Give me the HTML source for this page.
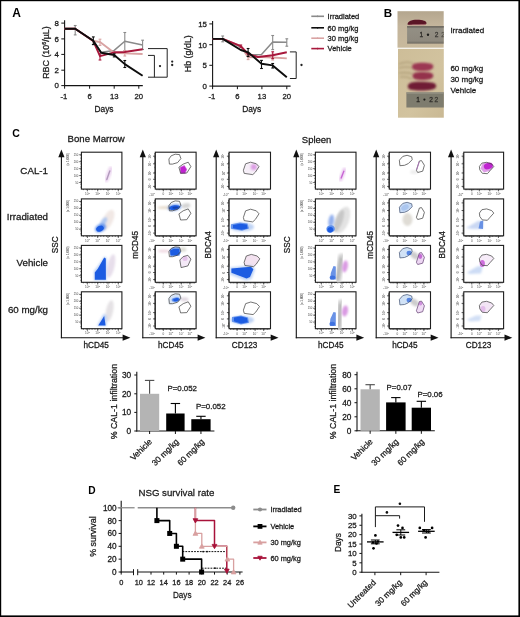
<!DOCTYPE html>
<html><head><meta charset="utf-8"><style>
html,body{margin:0;padding:0;background:#fff;}
body{width:520px;height:617px;overflow:hidden;position:relative;}
svg{position:absolute;left:0;top:0;}
text{font-family:"Liberation Sans", sans-serif;}
svg{will-change:transform;}
</style></head><body>
<svg width="520" height="617" viewBox="0 0 520 617">
<rect x="0" y="0" width="520" height="617" fill="#fff"/>
<text x="12.2" y="16.9" font-size="12" text-anchor="start" fill="#000" font-weight="bold">A</text>
<text x="383.8" y="16.8" font-size="11.6" text-anchor="start" fill="#000" font-weight="bold">B</text>
<text x="12.2" y="137.2" font-size="10.5" text-anchor="start" fill="#000" font-weight="bold">C</text>
<text x="88.2" y="493.6" font-size="10.2" text-anchor="start" fill="#000" font-weight="bold">D</text>
<text x="333.4" y="493.2" font-size="10.2" text-anchor="start" fill="#000" font-weight="bold">E</text>
<line x1="64.6" y1="20.2" x2="64.6" y2="86.1" stroke="#141414" stroke-width="1.1"/>
<line x1="64.1" y1="85.6" x2="142.8" y2="85.6" stroke="#141414" stroke-width="1.1"/>
<line x1="61.3" y1="23.1" x2="64.6" y2="23.1" stroke="#141414" stroke-width="1"/>
<text x="58.99999999999999" y="25.900000000000002" font-size="7.9" text-anchor="end" fill="#1a1a1a" stroke="#1a1a1a" stroke-width="0.27">8</text>
<line x1="61.3" y1="38.9" x2="64.6" y2="38.9" stroke="#141414" stroke-width="1"/>
<text x="58.99999999999999" y="41.699999999999996" font-size="7.9" text-anchor="end" fill="#1a1a1a" stroke="#1a1a1a" stroke-width="0.27">6</text>
<line x1="61.3" y1="54.4" x2="64.6" y2="54.4" stroke="#141414" stroke-width="1"/>
<text x="58.99999999999999" y="57.199999999999996" font-size="7.9" text-anchor="end" fill="#1a1a1a" stroke="#1a1a1a" stroke-width="0.27">4</text>
<line x1="61.3" y1="70.2" x2="64.6" y2="70.2" stroke="#141414" stroke-width="1"/>
<text x="58.99999999999999" y="73.0" font-size="7.9" text-anchor="end" fill="#1a1a1a" stroke="#1a1a1a" stroke-width="0.27">2</text>
<line x1="61.3" y1="85.6" x2="64.6" y2="85.6" stroke="#141414" stroke-width="1"/>
<text x="58.99999999999999" y="88.39999999999999" font-size="7.9" text-anchor="end" fill="#1a1a1a" stroke="#1a1a1a" stroke-width="0.27">0</text>
<line x1="64.6" y1="85.6" x2="64.6" y2="88.69999999999999" stroke="#141414" stroke-width="1"/>
<text x="63.8" y="98.7" font-size="7.7" text-anchor="middle" fill="#1a1a1a" stroke="#1a1a1a" stroke-width="0.27">-1</text>
<line x1="89.6" y1="85.6" x2="89.6" y2="88.69999999999999" stroke="#141414" stroke-width="1"/>
<text x="89.6" y="98.7" font-size="7.7" text-anchor="middle" fill="#1a1a1a" stroke="#1a1a1a" stroke-width="0.27">6</text>
<line x1="114.2" y1="85.6" x2="114.2" y2="88.69999999999999" stroke="#141414" stroke-width="1"/>
<text x="114.2" y="98.7" font-size="7.7" text-anchor="middle" fill="#1a1a1a" stroke="#1a1a1a" stroke-width="0.27">13</text>
<line x1="138.8" y1="85.6" x2="138.8" y2="88.69999999999999" stroke="#141414" stroke-width="1"/>
<text x="138.8" y="98.7" font-size="7.7" text-anchor="middle" fill="#1a1a1a" stroke="#1a1a1a" stroke-width="0.27">20</text>
<text transform="translate(104 111.5) scale(0.9 1)" font-size="9.3" text-anchor="middle" fill="#1a1a1a" stroke="#1a1a1a" stroke-width="0.27">Days</text>
<text x="48.6" y="52.5" font-size="8.9" text-anchor="middle" fill="#1a1a1a" transform="rotate(-90 48.6 52.5)" stroke="#1a1a1a" stroke-width="0.27">RBC (10<tspan font-size="5.5" dy="-3">6</tspan><tspan dy="3">/µL)</tspan></text>
<polyline points="64.6,28.8 75.2,28.8 93.3,40.8 101.2,52.3 114.2,50.4 124.8,41.2 142.6,44.9" stroke="#8a8a8a" stroke-width="1.5" fill="none" stroke-linejoin="round"/>
<line x1="75.2" y1="25.5" x2="75.2" y2="34.9" stroke="#8a8a8a" stroke-width="1.1"/>
<line x1="73.8" y1="25.5" x2="76.60000000000001" y2="25.5" stroke="#8a8a8a" stroke-width="1.1"/>
<line x1="73.8" y1="34.9" x2="76.60000000000001" y2="34.9" stroke="#8a8a8a" stroke-width="1.1"/>
<line x1="124.8" y1="32.5" x2="124.8" y2="50.7" stroke="#8a8a8a" stroke-width="1.1"/>
<line x1="123.39999999999999" y1="32.5" x2="126.2" y2="32.5" stroke="#8a8a8a" stroke-width="1.1"/>
<line x1="123.39999999999999" y1="50.7" x2="126.2" y2="50.7" stroke="#8a8a8a" stroke-width="1.1"/>
<line x1="142.6" y1="40.2" x2="142.6" y2="49.5" stroke="#8a8a8a" stroke-width="1.1"/>
<line x1="141.2" y1="40.2" x2="144.0" y2="40.2" stroke="#8a8a8a" stroke-width="1.1"/>
<line x1="141.2" y1="49.5" x2="144.0" y2="49.5" stroke="#8a8a8a" stroke-width="1.1"/>
<polyline points="64.6,28.8 75.2,28.8 93.3,41 100,42 114.2,52.7 124.8,53.4 142.6,54" stroke="#d9a3a3" stroke-width="1.9" fill="none" stroke-linejoin="round"/>
<line x1="100" y1="39.2" x2="100" y2="45.4" stroke="#d9a3a3" stroke-width="1.1"/>
<line x1="98.6" y1="39.2" x2="101.4" y2="39.2" stroke="#d9a3a3" stroke-width="1.1"/>
<line x1="98.6" y1="45.4" x2="101.4" y2="45.4" stroke="#d9a3a3" stroke-width="1.1"/>
<line x1="124.8" y1="50.5" x2="124.8" y2="56" stroke="#d9a3a3" stroke-width="1.1"/>
<line x1="123.39999999999999" y1="50.5" x2="126.2" y2="50.5" stroke="#d9a3a3" stroke-width="1.1"/>
<line x1="123.39999999999999" y1="56" x2="126.2" y2="56" stroke="#d9a3a3" stroke-width="1.1"/>
<polyline points="64.6,28.8 75.2,28.8 93.3,41 100,56.2 114.2,52.3 124.8,52 142.6,49.3" stroke="#a8183c" stroke-width="1.9" fill="none" stroke-linejoin="round"/>
<line x1="100" y1="53.8" x2="100" y2="60" stroke="#a8183c" stroke-width="1.1"/>
<line x1="98.6" y1="53.8" x2="101.4" y2="53.8" stroke="#a8183c" stroke-width="1.1"/>
<line x1="98.6" y1="60" x2="101.4" y2="60" stroke="#a8183c" stroke-width="1.1"/>
<polyline points="64.6,28.8 75.2,28.8 93.3,40.8 101.2,52.8 114.2,55 124.8,64.1 142.6,75.8" stroke="#0d0d0d" stroke-width="1.9" fill="none" stroke-linejoin="round"/>
<line x1="93.3" y1="36.9" x2="93.3" y2="44.6" stroke="#0d0d0d" stroke-width="1.1"/>
<line x1="91.89999999999999" y1="36.9" x2="94.7" y2="36.9" stroke="#0d0d0d" stroke-width="1.1"/>
<line x1="91.89999999999999" y1="44.6" x2="94.7" y2="44.6" stroke="#0d0d0d" stroke-width="1.1"/>
<line x1="114.2" y1="53.8" x2="114.2" y2="56.9" stroke="#0d0d0d" stroke-width="1.1"/>
<line x1="112.8" y1="53.8" x2="115.60000000000001" y2="53.8" stroke="#0d0d0d" stroke-width="1.1"/>
<line x1="112.8" y1="56.9" x2="115.60000000000001" y2="56.9" stroke="#0d0d0d" stroke-width="1.1"/>
<line x1="124.8" y1="60.5" x2="124.8" y2="67.5" stroke="#0d0d0d" stroke-width="1.1"/>
<line x1="123.39999999999999" y1="60.5" x2="126.2" y2="60.5" stroke="#0d0d0d" stroke-width="1.1"/>
<line x1="123.39999999999999" y1="67.5" x2="126.2" y2="67.5" stroke="#0d0d0d" stroke-width="1.1"/>
<polyline points="148,48.6 167.2,48.6 167.2,77.2 148,77.2" stroke="#222" stroke-width="1" fill="none" stroke-linejoin="round"/>
<polyline points="148,55.4 154.4,55.4 154.4,77.2" stroke="#222" stroke-width="1" fill="none" stroke-linejoin="round"/>
<circle cx="160" cy="66.1" r="1.15" fill="#222"/>
<circle cx="172.2" cy="61.6" r="1.15" fill="#222"/>
<circle cx="172.2" cy="65" r="1.15" fill="#222"/>
<line x1="212.6" y1="21.0" x2="212.6" y2="86.6" stroke="#141414" stroke-width="1.1"/>
<line x1="212.1" y1="86.1" x2="290.6" y2="86.1" stroke="#141414" stroke-width="1.1"/>
<line x1="209.29999999999998" y1="23.9" x2="212.6" y2="23.9" stroke="#141414" stroke-width="1"/>
<text x="207.0" y="26.7" font-size="7.9" text-anchor="end" fill="#1a1a1a" stroke="#1a1a1a" stroke-width="0.27">15</text>
<line x1="209.29999999999998" y1="44.7" x2="212.6" y2="44.7" stroke="#141414" stroke-width="1"/>
<text x="207.0" y="47.5" font-size="7.9" text-anchor="end" fill="#1a1a1a" stroke="#1a1a1a" stroke-width="0.27">10</text>
<line x1="209.29999999999998" y1="65.3" x2="212.6" y2="65.3" stroke="#141414" stroke-width="1"/>
<text x="207.0" y="68.1" font-size="7.9" text-anchor="end" fill="#1a1a1a" stroke="#1a1a1a" stroke-width="0.27">5</text>
<line x1="209.29999999999998" y1="86.1" x2="212.6" y2="86.1" stroke="#141414" stroke-width="1"/>
<text x="207.0" y="88.89999999999999" font-size="7.9" text-anchor="end" fill="#1a1a1a" stroke="#1a1a1a" stroke-width="0.27">0</text>
<line x1="212.6" y1="86.1" x2="212.6" y2="89.19999999999999" stroke="#141414" stroke-width="1"/>
<text x="211.79999999999998" y="98.7" font-size="7.7" text-anchor="middle" fill="#1a1a1a" stroke="#1a1a1a" stroke-width="0.27">-1</text>
<line x1="237.4" y1="86.1" x2="237.4" y2="89.19999999999999" stroke="#141414" stroke-width="1"/>
<text x="237.4" y="98.7" font-size="7.7" text-anchor="middle" fill="#1a1a1a" stroke="#1a1a1a" stroke-width="0.27">6</text>
<line x1="261.9" y1="86.1" x2="261.9" y2="89.19999999999999" stroke="#141414" stroke-width="1"/>
<text x="261.9" y="98.7" font-size="7.7" text-anchor="middle" fill="#1a1a1a" stroke="#1a1a1a" stroke-width="0.27">13</text>
<line x1="286.8" y1="86.1" x2="286.8" y2="89.19999999999999" stroke="#141414" stroke-width="1"/>
<text x="286.8" y="98.7" font-size="7.7" text-anchor="middle" fill="#1a1a1a" stroke="#1a1a1a" stroke-width="0.27">20</text>
<text transform="translate(251.7 111.5) scale(0.9 1)" font-size="9.3" text-anchor="middle" fill="#1a1a1a" stroke="#1a1a1a" stroke-width="0.27">Days</text>
<text x="191.4" y="53.7" font-size="8.9" text-anchor="middle" fill="#1a1a1a" transform="rotate(-90 191.4 53.7)" stroke="#1a1a1a" stroke-width="0.27">Hb (g/dL)</text>
<polyline points="212.6,38.9 222.7,38.9 240.8,47 248.1,55 261.5,54.6 272.7,42 286.8,42.2" stroke="#8a8a8a" stroke-width="1.5" fill="none" stroke-linejoin="round"/>
<line x1="222.7" y1="36" x2="222.7" y2="41.8" stroke="#8a8a8a" stroke-width="1.1"/>
<line x1="221.29999999999998" y1="36" x2="224.1" y2="36" stroke="#8a8a8a" stroke-width="1.1"/>
<line x1="221.29999999999998" y1="41.8" x2="224.1" y2="41.8" stroke="#8a8a8a" stroke-width="1.1"/>
<line x1="272.7" y1="35.5" x2="272.7" y2="49.6" stroke="#8a8a8a" stroke-width="1.1"/>
<line x1="271.3" y1="35.5" x2="274.09999999999997" y2="35.5" stroke="#8a8a8a" stroke-width="1.1"/>
<line x1="271.3" y1="49.6" x2="274.09999999999997" y2="49.6" stroke="#8a8a8a" stroke-width="1.1"/>
<line x1="286.8" y1="38.8" x2="286.8" y2="46.2" stroke="#8a8a8a" stroke-width="1.1"/>
<line x1="285.40000000000003" y1="38.8" x2="288.2" y2="38.8" stroke="#8a8a8a" stroke-width="1.1"/>
<line x1="285.40000000000003" y1="46.2" x2="288.2" y2="46.2" stroke="#8a8a8a" stroke-width="1.1"/>
<polyline points="212.6,38.9 222.7,38.9 240.8,46.2 248.1,57.3 261.5,57 272.7,57.5 286.8,58.4" stroke="#d9a3a3" stroke-width="1.9" fill="none" stroke-linejoin="round"/>
<line x1="248.1" y1="55" x2="248.1" y2="59.6" stroke="#d9a3a3" stroke-width="1.1"/>
<line x1="246.7" y1="55" x2="249.5" y2="55" stroke="#d9a3a3" stroke-width="1.1"/>
<line x1="246.7" y1="59.6" x2="249.5" y2="59.6" stroke="#d9a3a3" stroke-width="1.1"/>
<line x1="272.7" y1="54" x2="272.7" y2="60" stroke="#d9a3a3" stroke-width="1.1"/>
<line x1="271.3" y1="54" x2="274.09999999999997" y2="54" stroke="#d9a3a3" stroke-width="1.1"/>
<line x1="271.3" y1="60" x2="274.09999999999997" y2="60" stroke="#d9a3a3" stroke-width="1.1"/>
<polyline points="212.6,38.9 222.7,38.9 240.8,46.2 248.1,54 258,57 272.7,55.2 286.8,52.3" stroke="#a8183c" stroke-width="1.9" fill="none" stroke-linejoin="round"/>
<line x1="240.8" y1="45" x2="240.8" y2="47.3" stroke="#a8183c" stroke-width="1.1"/>
<line x1="239.4" y1="45" x2="242.20000000000002" y2="45" stroke="#a8183c" stroke-width="1.1"/>
<line x1="239.4" y1="47.3" x2="242.20000000000002" y2="47.3" stroke="#a8183c" stroke-width="1.1"/>
<line x1="272.7" y1="51.8" x2="272.7" y2="58.6" stroke="#a8183c" stroke-width="1.1"/>
<line x1="271.3" y1="51.8" x2="274.09999999999997" y2="51.8" stroke="#a8183c" stroke-width="1.1"/>
<line x1="271.3" y1="58.6" x2="274.09999999999997" y2="58.6" stroke="#a8183c" stroke-width="1.1"/>
<polyline points="212.6,38.9 222.7,38.9 240.8,50 248.1,52.3 261.5,63.8 272.7,65.4 286.8,77.2" stroke="#0d0d0d" stroke-width="1.9" fill="none" stroke-linejoin="round"/>
<line x1="248.1" y1="48.5" x2="248.1" y2="56.5" stroke="#0d0d0d" stroke-width="1.1"/>
<line x1="246.7" y1="48.5" x2="249.5" y2="48.5" stroke="#0d0d0d" stroke-width="1.1"/>
<line x1="246.7" y1="56.5" x2="249.5" y2="56.5" stroke="#0d0d0d" stroke-width="1.1"/>
<line x1="261.5" y1="60.4" x2="261.5" y2="68.5" stroke="#0d0d0d" stroke-width="1.1"/>
<line x1="260.1" y1="60.4" x2="262.9" y2="60.4" stroke="#0d0d0d" stroke-width="1.1"/>
<line x1="260.1" y1="68.5" x2="262.9" y2="68.5" stroke="#0d0d0d" stroke-width="1.1"/>
<line x1="272.7" y1="63.5" x2="272.7" y2="68" stroke="#0d0d0d" stroke-width="1.1"/>
<line x1="271.3" y1="63.5" x2="274.09999999999997" y2="63.5" stroke="#0d0d0d" stroke-width="1.1"/>
<line x1="271.3" y1="68" x2="274.09999999999997" y2="68" stroke="#0d0d0d" stroke-width="1.1"/>
<polyline points="289.9,51.9 296.2,51.9 296.2,78.5 289.9,78.5" stroke="#222" stroke-width="1" fill="none" stroke-linejoin="round"/>
<circle cx="301.5" cy="65" r="1.15" fill="#222"/>
<line x1="311.3" y1="16.3" x2="324" y2="16.3" stroke="#8a8a8a" stroke-width="1.6"/>
<line x1="317.6" y1="15.5" x2="317.6" y2="17.1" stroke="#8a8a8a" stroke-width="1"/>
<text x="327.6" y="19.0" font-size="7.5" text-anchor="start" fill="#1a1a1a" stroke="#1a1a1a" stroke-width="0.27">Irradiated</text>
<line x1="311.3" y1="27.8" x2="324" y2="27.8" stroke="#0d0d0d" stroke-width="1.6"/>
<line x1="317.6" y1="27.0" x2="317.6" y2="28.6" stroke="#0d0d0d" stroke-width="1"/>
<text x="327.6" y="30.5" font-size="7.5" text-anchor="start" fill="#1a1a1a" stroke="#1a1a1a" stroke-width="0.27">60 mg/kg</text>
<line x1="311.3" y1="38.2" x2="324" y2="38.2" stroke="#d9a3a3" stroke-width="1.6"/>
<line x1="317.6" y1="37.400000000000006" x2="317.6" y2="39.0" stroke="#d9a3a3" stroke-width="1"/>
<text x="327.6" y="40.900000000000006" font-size="7.5" text-anchor="start" fill="#1a1a1a" stroke="#1a1a1a" stroke-width="0.27">30 mg/kg</text>
<line x1="311.3" y1="48.6" x2="324" y2="48.6" stroke="#a8183c" stroke-width="1.6"/>
<line x1="317.6" y1="47.800000000000004" x2="317.6" y2="49.4" stroke="#a8183c" stroke-width="1"/>
<text x="327.6" y="51.300000000000004" font-size="7.5" text-anchor="start" fill="#1a1a1a" stroke="#1a1a1a" stroke-width="0.27">Vehicle</text>
<defs>
<filter id="bl1" x="-20%" y="-20%" width="140%" height="140%"><feGaussianBlur stdDeviation="0.8"/></filter>
<filter id="bl2" x="-30%" y="-30%" width="160%" height="160%"><feGaussianBlur stdDeviation="1.3"/></filter>
<filter id="bl05" x="-20%" y="-20%" width="140%" height="140%"><feGaussianBlur stdDeviation="0.5"/></filter>
<filter id="bl04" x="-20%" y="-20%" width="140%" height="140%"><feGaussianBlur stdDeviation="0.4"/></filter>
<filter id="bl3" x="-50%" y="-50%" width="200%" height="200%"><feGaussianBlur stdDeviation="2"/></filter>
<linearGradient id="ph1" x1="0" y1="0" x2="0" y2="1"><stop offset="0" stop-color="#b4a68e"/><stop offset="0.4" stop-color="#c4b59c"/><stop offset="1" stop-color="#c8b99c"/></linearGradient>
<linearGradient id="ph2" x1="0" y1="0" x2="1" y2="1"><stop offset="0" stop-color="#cdbd98"/><stop offset="0.6" stop-color="#d2c39f"/><stop offset="1" stop-color="#c9b893"/></linearGradient>
<linearGradient id="rul" x1="0" y1="0" x2="0" y2="1"><stop offset="0" stop-color="#77736a"/><stop offset="0.15" stop-color="#938f84"/><stop offset="0.85" stop-color="#8e897e"/><stop offset="1" stop-color="#6c685f"/></linearGradient>
<clipPath id="cp1"><rect x="397.5" y="11.2" width="46.2" height="36.5"/></clipPath>
<clipPath id="cp2"><rect x="398" y="48.8" width="45.8" height="68.9"/></clipPath>
</defs>
<rect x="397.5" y="11.2" width="46.2" height="36.5" fill="url(#ph1)"/>
<g clip-path="url(#cp1)">
<path d="M407.5,24.6 C407.5,21.6 411,19.8 417,19.8 C423,19.8 426.5,21 426.5,23.2 C426.5,24.6 424,25 417,24.8 C412,24.7 409,25.3 407.5,24.6 Z" fill="#5a1628" filter="url(#bl05)"/>
<path d="M408.5,24.9 C412,24.2 420,24.3 426,23.8 L426,24.9 C420,25.4 412,25.6 408.5,24.9 Z" fill="#a86a70" opacity="0.8" filter="url(#bl05)"/>
<rect x="407.1" y="26.0" width="40" height="17.6" fill="url(#rul)" filter="url(#bl04)"/>
<rect x="407.1" y="26.0" width="40" height="1.6" fill="#6e6960" filter="url(#bl04)" opacity="0.8"/>
<text x="419.6" y="37.4" font-size="6.6" text-anchor="start" fill="#2e2c28" stroke="#2e2c28" stroke-width="0.27">1</text>
<circle cx="428" cy="34.8" r="1.2" fill="#1e1e1c"/>
<text x="434.8" y="37.4" font-size="6.6" text-anchor="start" fill="#3a3834" stroke="#3a3834" stroke-width="0.27">2</text>
<text x="441.2" y="37.4" font-size="6.6" text-anchor="start" fill="#55524a" stroke="#55524a" stroke-width="0.27">2</text>
</g>
<rect x="398" y="48.8" width="45.8" height="68.9" fill="url(#ph2)"/>
<g clip-path="url(#cp2)">
<g filter="url(#bl1)" opacity="0.7"><path d="M399,64 Q405,61 413,63 M399,68 Q406,66 413,68 M399,73 Q406,72 413,74 M400,77 Q406,76 412,79" stroke="#a89670" stroke-width="1.6" fill="none"/></g>
<path d="M412,66.8 C412,63.5 416,62.8 422,62.8 C429,62.8 433.3,63.5 433.3,66.5 C433.3,69.8 429,71 422,71 C416,71 412,70 412,66.8 Z" fill="#9c3852" filter="url(#bl1)"/>
<path d="M412.6,76 C412.6,72.8 416,72 422,72 C429,72 433.3,72.6 433.3,75.8 C433.3,79 429,80 422,80 C416,80 412.6,79 412.6,76 Z" fill="#94324b" filter="url(#bl1)"/>
<path d="M407.8,86.5 C407.8,83 412,81.8 420,81.8 C430,81.8 436.2,82.5 436.2,86 C436.2,89.6 430,90.5 421,90.5 C412,90.5 407.8,89.8 407.8,86.5 Z" fill="#701c36" filter="url(#bl1)"/>
<rect x="406.4" y="92.3" width="40" height="15.2" fill="#7e7b6e" filter="url(#bl04)"/>
<rect x="406.4" y="92.3" width="40" height="1.5" fill="#9a9688" filter="url(#bl04)" opacity="0.8"/>
<text x="416.2" y="102.2" font-size="6.6" text-anchor="start" fill="#26241f" stroke="#26241f" stroke-width="0.27">1</text>
<circle cx="424.4" cy="99.6" r="1.1" fill="#1e1e1a"/>
<text x="429.3" y="102.2" font-size="6.6" text-anchor="start" fill="#2e2c28" stroke="#2e2c28" stroke-width="0.27">2</text>
<text x="434.5" y="102.2" font-size="6.6" text-anchor="start" fill="#3a3832" stroke="#3a3832" stroke-width="0.27">2</text>
</g>
<text x="450.4" y="32.9" font-size="8.0" text-anchor="start" fill="#1a1a1a" stroke="#1a1a1a" stroke-width="0.27">Irradiated</text>
<text x="450.4" y="71.4" font-size="8.0" text-anchor="start" fill="#1a1a1a" stroke="#1a1a1a" stroke-width="0.27">60 mg/kg</text>
<text x="450.4" y="82.1" font-size="8.0" text-anchor="start" fill="#1a1a1a" stroke="#1a1a1a" stroke-width="0.27">30 mg/kg</text>
<text x="450.4" y="92.7" font-size="8.0" text-anchor="start" fill="#1a1a1a" stroke="#1a1a1a" stroke-width="0.27">Vehicle</text>
<text x="67.6" y="141.8" font-size="9.6" text-anchor="start" fill="#1a1a1a" stroke="#1a1a1a" stroke-width="0.27">Bone Marrow</text>
<text x="301.8" y="142.6" font-size="9.5" text-anchor="start" fill="#1a1a1a" stroke="#1a1a1a" stroke-width="0.27">Spleen</text>
<text x="48.0" y="173.9" font-size="9.75" text-anchor="end" fill="#1a1a1a" stroke="#1a1a1a" stroke-width="0.27">CAL-1</text>
<text x="48.0" y="220.2" font-size="9.75" text-anchor="end" fill="#1a1a1a" stroke="#1a1a1a" stroke-width="0.27">Irradiated</text>
<text x="48.0" y="266.4" font-size="9.75" text-anchor="end" fill="#1a1a1a" stroke="#1a1a1a" stroke-width="0.27">Vehicle</text>
<text x="48.0" y="312.7" font-size="9.75" text-anchor="end" fill="#1a1a1a" stroke="#1a1a1a" stroke-width="0.27">60 mg/kg</text>
<line x1="61.4" y1="155" x2="61.4" y2="338.2" stroke="#111" stroke-width="1.1"/>
<polygon points="61.4,149.4 58.3,157.2 64.5,157.2" stroke="none" stroke-width="1" fill="#111" stroke-linejoin="round"/>
<line x1="60.9" y1="337.7" x2="124.4" y2="337.7" stroke="#111" stroke-width="1.1"/>
<polygon points="130.4,337.7 122.60000000000001,334.59999999999997 122.60000000000001,340.8" stroke="none" stroke-width="1" fill="#111" stroke-linejoin="round"/>
<text x="96.2" y="347.8" font-size="8.2" text-anchor="middle" fill="#1a1a1a" stroke="#1a1a1a" stroke-width="0.27">hCD45</text>
<text x="57.6" y="244.8" font-size="8.2" text-anchor="middle" fill="#1a1a1a" transform="rotate(-90 57.6 244.8)" stroke="#1a1a1a" stroke-width="0.27">SSC</text>
<line x1="142.8" y1="155" x2="142.8" y2="338.2" stroke="#111" stroke-width="1.1"/>
<polygon points="142.8,149.4 139.70000000000002,157.2 145.9,157.2" stroke="none" stroke-width="1" fill="#111" stroke-linejoin="round"/>
<line x1="142.3" y1="337.7" x2="199.4" y2="337.7" stroke="#111" stroke-width="1.1"/>
<polygon points="205.4,337.7 197.6,334.59999999999997 197.6,340.8" stroke="none" stroke-width="1" fill="#111" stroke-linejoin="round"/>
<text x="170.8" y="347.8" font-size="8.2" text-anchor="middle" fill="#1a1a1a" stroke="#1a1a1a" stroke-width="0.27">hCD45</text>
<text x="138.3" y="244.8" font-size="8.2" text-anchor="middle" fill="#1a1a1a" transform="rotate(-90 138.3 244.8)" stroke="#1a1a1a" stroke-width="0.27">mCD45</text>
<line x1="216.2" y1="155" x2="216.2" y2="338.2" stroke="#111" stroke-width="1.1"/>
<polygon points="216.2,149.4 213.1,157.2 219.29999999999998,157.2" stroke="none" stroke-width="1" fill="#111" stroke-linejoin="round"/>
<line x1="215.7" y1="337.7" x2="272.5" y2="337.7" stroke="#111" stroke-width="1.1"/>
<polygon points="278.5,337.7 270.7,334.59999999999997 270.7,340.8" stroke="none" stroke-width="1" fill="#111" stroke-linejoin="round"/>
<text x="244.6" y="347.8" font-size="8.2" text-anchor="middle" fill="#1a1a1a" stroke="#1a1a1a" stroke-width="0.27">CD123</text>
<text x="210.7" y="244.8" font-size="8.2" text-anchor="middle" fill="#1a1a1a" transform="rotate(-90 210.7 244.8)" stroke="#1a1a1a" stroke-width="0.27">BDCA4</text>
<line x1="296.3" y1="155" x2="296.3" y2="338.2" stroke="#111" stroke-width="1.1"/>
<polygon points="296.3,149.4 293.2,157.2 299.40000000000003,157.2" stroke="none" stroke-width="1" fill="#111" stroke-linejoin="round"/>
<line x1="295.8" y1="337.7" x2="358.2" y2="337.7" stroke="#111" stroke-width="1.1"/>
<polygon points="364.2,337.7 356.4,334.59999999999997 356.4,340.8" stroke="none" stroke-width="1" fill="#111" stroke-linejoin="round"/>
<text x="330.8" y="347.8" font-size="8.2" text-anchor="middle" fill="#1a1a1a" stroke="#1a1a1a" stroke-width="0.27">hCD45</text>
<text x="290.5" y="244.8" font-size="8.2" text-anchor="middle" fill="#1a1a1a" transform="rotate(-90 290.5 244.8)" stroke="#1a1a1a" stroke-width="0.27">SSC</text>
<line x1="376.2" y1="155" x2="376.2" y2="338.2" stroke="#111" stroke-width="1.1"/>
<polygon points="376.2,149.4 373.09999999999997,157.2 379.3,157.2" stroke="none" stroke-width="1" fill="#111" stroke-linejoin="round"/>
<line x1="375.7" y1="337.7" x2="432.5" y2="337.7" stroke="#111" stroke-width="1.1"/>
<polygon points="438.5,337.7 430.7,334.59999999999997 430.7,340.8" stroke="none" stroke-width="1" fill="#111" stroke-linejoin="round"/>
<text x="404.9" y="347.8" font-size="8.2" text-anchor="middle" fill="#1a1a1a" stroke="#1a1a1a" stroke-width="0.27">hCD45</text>
<text x="372.9" y="244.8" font-size="8.2" text-anchor="middle" fill="#1a1a1a" transform="rotate(-90 372.9 244.8)" stroke="#1a1a1a" stroke-width="0.27">mCD45</text>
<line x1="451.1" y1="155" x2="451.1" y2="338.2" stroke="#111" stroke-width="1.1"/>
<polygon points="451.1,149.4 448.0,157.2 454.20000000000005,157.2" stroke="none" stroke-width="1" fill="#111" stroke-linejoin="round"/>
<line x1="450.6" y1="337.7" x2="506.29999999999995" y2="337.7" stroke="#111" stroke-width="1.1"/>
<polygon points="512.3,337.7 504.49999999999994,334.59999999999997 504.49999999999994,340.8" stroke="none" stroke-width="1" fill="#111" stroke-linejoin="round"/>
<text x="478.5" y="347.8" font-size="8.2" text-anchor="middle" fill="#1a1a1a" stroke="#1a1a1a" stroke-width="0.27">CD123</text>
<text x="445.3" y="244.8" font-size="8.2" text-anchor="middle" fill="#1a1a1a" transform="rotate(-90 445.3 244.8)" stroke="#1a1a1a" stroke-width="0.27">BDCA4</text>
<rect x="81.4" y="152.2" width="40.5" height="36.9" fill="none" stroke="#1e1e1e" stroke-width="1.1"/>
<text x="78.4" y="183.5" font-size="2.8" text-anchor="end" fill="#4a4a4a">50</text>
<text x="78.4" y="176.57" font-size="2.8" text-anchor="end" fill="#4a4a4a">100</text>
<text x="78.4" y="169.64" font-size="2.8" text-anchor="end" fill="#4a4a4a">150</text>
<text x="78.4" y="162.71" font-size="2.8" text-anchor="end" fill="#4a4a4a">200</text>
<text x="78.4" y="155.78" font-size="2.8" text-anchor="end" fill="#4a4a4a">250</text>
<text x="69.4" y="159.39999999999998" font-size="3.1" text-anchor="middle" fill="#333" transform="rotate(-90 69.4 159.39999999999998)">(x 1,000)</text>
<text x="87.4" y="194.79999999999998" font-size="3.1" text-anchor="middle" fill="#4a4a4a">10<tspan font-size="2.2" dy="-1.1">2</tspan></text>
<text x="97.7" y="194.79999999999998" font-size="3.1" text-anchor="middle" fill="#4a4a4a">10<tspan font-size="2.2" dy="-1.1">3</tspan></text>
<text x="108.0" y="194.79999999999998" font-size="3.1" text-anchor="middle" fill="#4a4a4a">10<tspan font-size="2.2" dy="-1.1">4</tspan></text>
<text x="118.3" y="194.79999999999998" font-size="3.1" text-anchor="middle" fill="#4a4a4a">10<tspan font-size="2.2" dy="-1.1">5</tspan></text>
<path d="M79.2,182.5H81.4M79.2,175.57H81.4M79.2,168.64H81.4M79.2,161.71H81.4M79.2,154.78H81.4M87.4,189.1v2.2M97.7,189.1v2.2M108.0,189.1v2.2M118.3,189.1v2.2M83.4,189.1v1M86.3,189.1v1M89.2,189.1v1M92.1,189.1v1M95.0,189.1v1M97.9,189.1v1M100.8,189.1v1M103.7,189.1v1M106.6,189.1v1M109.5,189.1v1M112.4,189.1v1M115.3,189.1v1M118.2,189.1v1M121.1,189.1v1M80.4,187.1h1M80.4,184.2h1M80.4,181.3h1M80.4,178.4h1M80.4,175.5h1M80.4,172.6h1M80.4,169.7h1M80.4,166.8h1M80.4,163.9h1M80.4,161.0h1M80.4,158.1h1M80.4,155.2h1" stroke="#222" stroke-width="0.7" fill="none"/>
<rect x="81.4" y="198.9" width="40.5" height="36.9" fill="none" stroke="#1e1e1e" stroke-width="1.1"/>
<text x="78.4" y="230.2" font-size="2.8" text-anchor="end" fill="#4a4a4a">50</text>
<text x="78.4" y="223.27" font-size="2.8" text-anchor="end" fill="#4a4a4a">100</text>
<text x="78.4" y="216.34" font-size="2.8" text-anchor="end" fill="#4a4a4a">150</text>
<text x="78.4" y="209.41" font-size="2.8" text-anchor="end" fill="#4a4a4a">200</text>
<text x="78.4" y="202.48" font-size="2.8" text-anchor="end" fill="#4a4a4a">250</text>
<text x="69.4" y="206.1" font-size="3.1" text-anchor="middle" fill="#333" transform="rotate(-90 69.4 206.1)">(x 1,000)</text>
<text x="87.4" y="241.5" font-size="3.1" text-anchor="middle" fill="#4a4a4a">10<tspan font-size="2.2" dy="-1.1">2</tspan></text>
<text x="97.7" y="241.5" font-size="3.1" text-anchor="middle" fill="#4a4a4a">10<tspan font-size="2.2" dy="-1.1">3</tspan></text>
<text x="108.0" y="241.5" font-size="3.1" text-anchor="middle" fill="#4a4a4a">10<tspan font-size="2.2" dy="-1.1">4</tspan></text>
<text x="118.3" y="241.5" font-size="3.1" text-anchor="middle" fill="#4a4a4a">10<tspan font-size="2.2" dy="-1.1">5</tspan></text>
<path d="M79.2,229.2H81.4M79.2,222.27H81.4M79.2,215.34H81.4M79.2,208.41H81.4M79.2,201.48H81.4M87.4,235.8v2.2M97.7,235.8v2.2M108.0,235.8v2.2M118.3,235.8v2.2M83.4,235.8v1M86.3,235.8v1M89.2,235.8v1M92.1,235.8v1M95.0,235.8v1M97.9,235.8v1M100.8,235.8v1M103.7,235.8v1M106.6,235.8v1M109.5,235.8v1M112.4,235.8v1M115.3,235.8v1M118.2,235.8v1M121.1,235.8v1M80.4,233.8h1M80.4,230.9h1M80.4,228.0h1M80.4,225.1h1M80.4,222.2h1M80.4,219.3h1M80.4,216.4h1M80.4,213.5h1M80.4,210.6h1M80.4,207.7h1M80.4,204.8h1M80.4,201.9h1" stroke="#222" stroke-width="0.7" fill="none"/>
<rect x="81.4" y="245.4" width="40.5" height="36.9" fill="none" stroke="#1e1e1e" stroke-width="1.1"/>
<text x="78.4" y="276.7" font-size="2.8" text-anchor="end" fill="#4a4a4a">50</text>
<text x="78.4" y="269.77" font-size="2.8" text-anchor="end" fill="#4a4a4a">100</text>
<text x="78.4" y="262.84" font-size="2.8" text-anchor="end" fill="#4a4a4a">150</text>
<text x="78.4" y="255.91" font-size="2.8" text-anchor="end" fill="#4a4a4a">200</text>
<text x="78.4" y="248.98" font-size="2.8" text-anchor="end" fill="#4a4a4a">250</text>
<text x="69.4" y="252.6" font-size="3.1" text-anchor="middle" fill="#333" transform="rotate(-90 69.4 252.6)">(x 1,000)</text>
<text x="87.4" y="288.0" font-size="3.1" text-anchor="middle" fill="#4a4a4a">10<tspan font-size="2.2" dy="-1.1">2</tspan></text>
<text x="97.7" y="288.0" font-size="3.1" text-anchor="middle" fill="#4a4a4a">10<tspan font-size="2.2" dy="-1.1">3</tspan></text>
<text x="108.0" y="288.0" font-size="3.1" text-anchor="middle" fill="#4a4a4a">10<tspan font-size="2.2" dy="-1.1">4</tspan></text>
<text x="118.3" y="288.0" font-size="3.1" text-anchor="middle" fill="#4a4a4a">10<tspan font-size="2.2" dy="-1.1">5</tspan></text>
<path d="M79.2,275.7H81.4M79.2,268.77H81.4M79.2,261.84H81.4M79.2,254.91H81.4M79.2,247.98H81.4M87.4,282.3v2.2M97.7,282.3v2.2M108.0,282.3v2.2M118.3,282.3v2.2M83.4,282.3v1M86.3,282.3v1M89.2,282.3v1M92.1,282.3v1M95.0,282.3v1M97.9,282.3v1M100.8,282.3v1M103.7,282.3v1M106.6,282.3v1M109.5,282.3v1M112.4,282.3v1M115.3,282.3v1M118.2,282.3v1M121.1,282.3v1M80.4,280.3h1M80.4,277.4h1M80.4,274.5h1M80.4,271.6h1M80.4,268.7h1M80.4,265.8h1M80.4,262.9h1M80.4,260.0h1M80.4,257.1h1M80.4,254.2h1M80.4,251.3h1M80.4,248.4h1" stroke="#222" stroke-width="0.7" fill="none"/>
<rect x="81.4" y="291.8" width="40.5" height="36.9" fill="none" stroke="#1e1e1e" stroke-width="1.1"/>
<text x="78.4" y="323.1" font-size="2.8" text-anchor="end" fill="#4a4a4a">50</text>
<text x="78.4" y="316.17" font-size="2.8" text-anchor="end" fill="#4a4a4a">100</text>
<text x="78.4" y="309.24" font-size="2.8" text-anchor="end" fill="#4a4a4a">150</text>
<text x="78.4" y="302.31" font-size="2.8" text-anchor="end" fill="#4a4a4a">200</text>
<text x="78.4" y="295.38" font-size="2.8" text-anchor="end" fill="#4a4a4a">250</text>
<text x="69.4" y="299.0" font-size="3.1" text-anchor="middle" fill="#333" transform="rotate(-90 69.4 299.0)">(x 1,000)</text>
<text x="87.4" y="334.4" font-size="3.1" text-anchor="middle" fill="#4a4a4a">10<tspan font-size="2.2" dy="-1.1">2</tspan></text>
<text x="97.7" y="334.4" font-size="3.1" text-anchor="middle" fill="#4a4a4a">10<tspan font-size="2.2" dy="-1.1">3</tspan></text>
<text x="108.0" y="334.4" font-size="3.1" text-anchor="middle" fill="#4a4a4a">10<tspan font-size="2.2" dy="-1.1">4</tspan></text>
<text x="118.3" y="334.4" font-size="3.1" text-anchor="middle" fill="#4a4a4a">10<tspan font-size="2.2" dy="-1.1">5</tspan></text>
<path d="M79.2,322.1H81.4M79.2,315.17H81.4M79.2,308.24H81.4M79.2,301.31H81.4M79.2,294.38H81.4M87.4,328.7v2.2M97.7,328.7v2.2M108.0,328.7v2.2M118.3,328.7v2.2M83.4,328.7v1M86.3,328.7v1M89.2,328.7v1M92.1,328.7v1M95.0,328.7v1M97.9,328.7v1M100.8,328.7v1M103.7,328.7v1M106.6,328.7v1M109.5,328.7v1M112.4,328.7v1M115.3,328.7v1M118.2,328.7v1M121.1,328.7v1M80.4,326.7h1M80.4,323.8h1M80.4,320.9h1M80.4,318.0h1M80.4,315.1h1M80.4,312.2h1M80.4,309.3h1M80.4,306.4h1M80.4,303.5h1M80.4,300.6h1M80.4,297.7h1M80.4,294.8h1" stroke="#222" stroke-width="0.7" fill="none"/>
<rect x="155.3" y="152.2" width="40.79999999999998" height="36.9" fill="none" stroke="#1e1e1e" stroke-width="1.1"/>
<text x="150.70000000000002" y="156.2" font-size="3.1" text-anchor="middle" fill="#4a4a4a" transform="rotate(-90 150.70000000000002 156.2)">10<tspan font-size="2.2" dy="-1.1">5</tspan></text>
<text x="150.70000000000002" y="163.8" font-size="3.1" text-anchor="middle" fill="#4a4a4a" transform="rotate(-90 150.70000000000002 163.8)">10<tspan font-size="2.2" dy="-1.1">4</tspan></text>
<text x="150.70000000000002" y="173.0" font-size="3.1" text-anchor="middle" fill="#4a4a4a" transform="rotate(-90 150.70000000000002 173.0)">10<tspan font-size="2.2" dy="-1.1">3</tspan></text>
<text x="150.70000000000002" y="179.3" font-size="3.1" text-anchor="middle" fill="#4a4a4a" transform="rotate(-90 150.70000000000002 179.3)">0</text>
<text x="150.70000000000002" y="186.4" font-size="3.1" text-anchor="middle" fill="#4a4a4a" transform="rotate(-90 150.70000000000002 186.4)">-10<tspan font-size="2.2" dy="-1.1">3</tspan></text>
<text x="163.3" y="194.9" font-size="3.1" text-anchor="middle" fill="#4a4a4a">0</text>
<text x="170.8" y="194.9" font-size="3.1" text-anchor="middle" fill="#4a4a4a">10<tspan font-size="2.2" dy="-1.1">3</tspan></text>
<text x="181.3" y="194.9" font-size="3.1" text-anchor="middle" fill="#4a4a4a">10<tspan font-size="2.2" dy="-1.1">4</tspan></text>
<text x="189.9" y="194.9" font-size="3.1" text-anchor="middle" fill="#4a4a4a">10<tspan font-size="2.2" dy="-1.1">5</tspan></text>
<text x="154.8" y="195.5" font-size="3.0" text-anchor="end" fill="#4a4a4a">-10<tspan font-size="2.2" dy="-1.1">3</tspan></text>
<path d="M154.20000000000002,153.7h1.1M154.20000000000002,154.96h1.1M154.20000000000002,156.21h1.1M154.20000000000002,157.47h1.1M154.20000000000002,158.72h1.1M154.20000000000002,159.98h1.1M154.20000000000002,161.23h1.1M154.20000000000002,162.49h1.1M154.20000000000002,163.74h1.1M154.20000000000002,165.0h1.1M154.20000000000002,166.26h1.1M154.20000000000002,167.51h1.1M154.20000000000002,168.77h1.1M154.20000000000002,170.02h1.1M154.20000000000002,171.28h1.1M154.20000000000002,172.53h1.1M154.20000000000002,173.79h1.1M154.20000000000002,175.04h1.1M154.20000000000002,176.3h1.1M154.20000000000002,177.56h1.1M154.20000000000002,178.81h1.1M154.20000000000002,180.07h1.1M154.20000000000002,181.32h1.1M154.20000000000002,182.58h1.1M154.20000000000002,183.83h1.1M154.20000000000002,185.09h1.1M154.20000000000002,186.34h1.1M154.20000000000002,187.6h1.1M156.8,189.1v1.1M158.2,189.1v1.1M159.6,189.1v1.1M161.0,189.1v1.1M162.4,189.1v1.1M163.8,189.1v1.1M165.2,189.1v1.1M166.6,189.1v1.1M168.0,189.1v1.1M169.4,189.1v1.1M170.8,189.1v1.1M172.2,189.1v1.1M173.6,189.1v1.1M175.0,189.1v1.1M176.4,189.1v1.1M177.8,189.1v1.1M179.2,189.1v1.1M180.6,189.1v1.1M182.0,189.1v1.1M183.4,189.1v1.1M184.8,189.1v1.1M186.2,189.1v1.1M187.6,189.1v1.1M189.0,189.1v1.1M190.4,189.1v1.1M191.8,189.1v1.1M193.2,189.1v1.1M194.6,189.1v1.1M153.10000000000002,156.2h2.2M153.10000000000002,163.8h2.2M153.10000000000002,173.0h2.2M153.10000000000002,179.3h2.2M153.10000000000002,186.4h2.2M163.3,189.1v2.2M170.8,189.1v2.2M181.3,189.1v2.2M189.9,189.1v2.2" stroke="#222" stroke-width="0.75" fill="none"/>
<rect x="155.3" y="198.9" width="40.79999999999998" height="36.9" fill="none" stroke="#1e1e1e" stroke-width="1.1"/>
<text x="150.70000000000002" y="202.9" font-size="3.1" text-anchor="middle" fill="#4a4a4a" transform="rotate(-90 150.70000000000002 202.9)">10<tspan font-size="2.2" dy="-1.1">5</tspan></text>
<text x="150.70000000000002" y="210.5" font-size="3.1" text-anchor="middle" fill="#4a4a4a" transform="rotate(-90 150.70000000000002 210.5)">10<tspan font-size="2.2" dy="-1.1">4</tspan></text>
<text x="150.70000000000002" y="219.7" font-size="3.1" text-anchor="middle" fill="#4a4a4a" transform="rotate(-90 150.70000000000002 219.7)">10<tspan font-size="2.2" dy="-1.1">3</tspan></text>
<text x="150.70000000000002" y="226.0" font-size="3.1" text-anchor="middle" fill="#4a4a4a" transform="rotate(-90 150.70000000000002 226.0)">0</text>
<text x="150.70000000000002" y="233.1" font-size="3.1" text-anchor="middle" fill="#4a4a4a" transform="rotate(-90 150.70000000000002 233.1)">-10<tspan font-size="2.2" dy="-1.1">3</tspan></text>
<text x="163.3" y="241.60000000000002" font-size="3.1" text-anchor="middle" fill="#4a4a4a">0</text>
<text x="170.8" y="241.60000000000002" font-size="3.1" text-anchor="middle" fill="#4a4a4a">10<tspan font-size="2.2" dy="-1.1">3</tspan></text>
<text x="181.3" y="241.60000000000002" font-size="3.1" text-anchor="middle" fill="#4a4a4a">10<tspan font-size="2.2" dy="-1.1">4</tspan></text>
<text x="189.9" y="241.60000000000002" font-size="3.1" text-anchor="middle" fill="#4a4a4a">10<tspan font-size="2.2" dy="-1.1">5</tspan></text>
<text x="154.8" y="242.20000000000002" font-size="3.0" text-anchor="end" fill="#4a4a4a">-10<tspan font-size="2.2" dy="-1.1">3</tspan></text>
<path d="M154.20000000000002,200.4h1.1M154.20000000000002,201.66h1.1M154.20000000000002,202.91h1.1M154.20000000000002,204.17h1.1M154.20000000000002,205.42h1.1M154.20000000000002,206.68h1.1M154.20000000000002,207.93h1.1M154.20000000000002,209.19h1.1M154.20000000000002,210.44h1.1M154.20000000000002,211.7h1.1M154.20000000000002,212.96h1.1M154.20000000000002,214.21h1.1M154.20000000000002,215.47h1.1M154.20000000000002,216.72h1.1M154.20000000000002,217.98h1.1M154.20000000000002,219.23h1.1M154.20000000000002,220.49h1.1M154.20000000000002,221.74h1.1M154.20000000000002,223.0h1.1M154.20000000000002,224.26h1.1M154.20000000000002,225.51h1.1M154.20000000000002,226.77h1.1M154.20000000000002,228.02h1.1M154.20000000000002,229.28h1.1M154.20000000000002,230.53h1.1M154.20000000000002,231.79h1.1M154.20000000000002,233.04h1.1M154.20000000000002,234.3h1.1M156.8,235.8v1.1M158.2,235.8v1.1M159.6,235.8v1.1M161.0,235.8v1.1M162.4,235.8v1.1M163.8,235.8v1.1M165.2,235.8v1.1M166.6,235.8v1.1M168.0,235.8v1.1M169.4,235.8v1.1M170.8,235.8v1.1M172.2,235.8v1.1M173.6,235.8v1.1M175.0,235.8v1.1M176.4,235.8v1.1M177.8,235.8v1.1M179.2,235.8v1.1M180.6,235.8v1.1M182.0,235.8v1.1M183.4,235.8v1.1M184.8,235.8v1.1M186.2,235.8v1.1M187.6,235.8v1.1M189.0,235.8v1.1M190.4,235.8v1.1M191.8,235.8v1.1M193.2,235.8v1.1M194.6,235.8v1.1M153.10000000000002,202.9h2.2M153.10000000000002,210.5h2.2M153.10000000000002,219.7h2.2M153.10000000000002,226.0h2.2M153.10000000000002,233.1h2.2M163.3,235.8v2.2M170.8,235.8v2.2M181.3,235.8v2.2M189.9,235.8v2.2" stroke="#222" stroke-width="0.75" fill="none"/>
<rect x="155.3" y="245.4" width="40.79999999999998" height="36.9" fill="none" stroke="#1e1e1e" stroke-width="1.1"/>
<text x="150.70000000000002" y="249.4" font-size="3.1" text-anchor="middle" fill="#4a4a4a" transform="rotate(-90 150.70000000000002 249.4)">10<tspan font-size="2.2" dy="-1.1">5</tspan></text>
<text x="150.70000000000002" y="257.0" font-size="3.1" text-anchor="middle" fill="#4a4a4a" transform="rotate(-90 150.70000000000002 257.0)">10<tspan font-size="2.2" dy="-1.1">4</tspan></text>
<text x="150.70000000000002" y="266.2" font-size="3.1" text-anchor="middle" fill="#4a4a4a" transform="rotate(-90 150.70000000000002 266.2)">10<tspan font-size="2.2" dy="-1.1">3</tspan></text>
<text x="150.70000000000002" y="272.5" font-size="3.1" text-anchor="middle" fill="#4a4a4a" transform="rotate(-90 150.70000000000002 272.5)">0</text>
<text x="150.70000000000002" y="279.6" font-size="3.1" text-anchor="middle" fill="#4a4a4a" transform="rotate(-90 150.70000000000002 279.6)">-10<tspan font-size="2.2" dy="-1.1">3</tspan></text>
<text x="163.3" y="288.1" font-size="3.1" text-anchor="middle" fill="#4a4a4a">0</text>
<text x="170.8" y="288.1" font-size="3.1" text-anchor="middle" fill="#4a4a4a">10<tspan font-size="2.2" dy="-1.1">3</tspan></text>
<text x="181.3" y="288.1" font-size="3.1" text-anchor="middle" fill="#4a4a4a">10<tspan font-size="2.2" dy="-1.1">4</tspan></text>
<text x="189.9" y="288.1" font-size="3.1" text-anchor="middle" fill="#4a4a4a">10<tspan font-size="2.2" dy="-1.1">5</tspan></text>
<text x="154.8" y="288.7" font-size="3.0" text-anchor="end" fill="#4a4a4a">-10<tspan font-size="2.2" dy="-1.1">3</tspan></text>
<path d="M154.20000000000002,246.9h1.1M154.20000000000002,248.16h1.1M154.20000000000002,249.41h1.1M154.20000000000002,250.67h1.1M154.20000000000002,251.92h1.1M154.20000000000002,253.18h1.1M154.20000000000002,254.43h1.1M154.20000000000002,255.69h1.1M154.20000000000002,256.94h1.1M154.20000000000002,258.2h1.1M154.20000000000002,259.46h1.1M154.20000000000002,260.71h1.1M154.20000000000002,261.97h1.1M154.20000000000002,263.22h1.1M154.20000000000002,264.48h1.1M154.20000000000002,265.73h1.1M154.20000000000002,266.99h1.1M154.20000000000002,268.24h1.1M154.20000000000002,269.5h1.1M154.20000000000002,270.76h1.1M154.20000000000002,272.01h1.1M154.20000000000002,273.27h1.1M154.20000000000002,274.52h1.1M154.20000000000002,275.78h1.1M154.20000000000002,277.03h1.1M154.20000000000002,278.29h1.1M154.20000000000002,279.54h1.1M154.20000000000002,280.8h1.1M156.8,282.3v1.1M158.2,282.3v1.1M159.6,282.3v1.1M161.0,282.3v1.1M162.4,282.3v1.1M163.8,282.3v1.1M165.2,282.3v1.1M166.6,282.3v1.1M168.0,282.3v1.1M169.4,282.3v1.1M170.8,282.3v1.1M172.2,282.3v1.1M173.6,282.3v1.1M175.0,282.3v1.1M176.4,282.3v1.1M177.8,282.3v1.1M179.2,282.3v1.1M180.6,282.3v1.1M182.0,282.3v1.1M183.4,282.3v1.1M184.8,282.3v1.1M186.2,282.3v1.1M187.6,282.3v1.1M189.0,282.3v1.1M190.4,282.3v1.1M191.8,282.3v1.1M193.2,282.3v1.1M194.6,282.3v1.1M153.10000000000002,249.4h2.2M153.10000000000002,257.0h2.2M153.10000000000002,266.2h2.2M153.10000000000002,272.5h2.2M153.10000000000002,279.6h2.2M163.3,282.3v2.2M170.8,282.3v2.2M181.3,282.3v2.2M189.9,282.3v2.2" stroke="#222" stroke-width="0.75" fill="none"/>
<rect x="155.3" y="291.8" width="40.79999999999998" height="36.9" fill="none" stroke="#1e1e1e" stroke-width="1.1"/>
<text x="150.70000000000002" y="295.8" font-size="3.1" text-anchor="middle" fill="#4a4a4a" transform="rotate(-90 150.70000000000002 295.8)">10<tspan font-size="2.2" dy="-1.1">5</tspan></text>
<text x="150.70000000000002" y="303.4" font-size="3.1" text-anchor="middle" fill="#4a4a4a" transform="rotate(-90 150.70000000000002 303.4)">10<tspan font-size="2.2" dy="-1.1">4</tspan></text>
<text x="150.70000000000002" y="312.6" font-size="3.1" text-anchor="middle" fill="#4a4a4a" transform="rotate(-90 150.70000000000002 312.6)">10<tspan font-size="2.2" dy="-1.1">3</tspan></text>
<text x="150.70000000000002" y="318.9" font-size="3.1" text-anchor="middle" fill="#4a4a4a" transform="rotate(-90 150.70000000000002 318.9)">0</text>
<text x="150.70000000000002" y="326.0" font-size="3.1" text-anchor="middle" fill="#4a4a4a" transform="rotate(-90 150.70000000000002 326.0)">-10<tspan font-size="2.2" dy="-1.1">3</tspan></text>
<text x="163.3" y="334.5" font-size="3.1" text-anchor="middle" fill="#4a4a4a">0</text>
<text x="170.8" y="334.5" font-size="3.1" text-anchor="middle" fill="#4a4a4a">10<tspan font-size="2.2" dy="-1.1">3</tspan></text>
<text x="181.3" y="334.5" font-size="3.1" text-anchor="middle" fill="#4a4a4a">10<tspan font-size="2.2" dy="-1.1">4</tspan></text>
<text x="189.9" y="334.5" font-size="3.1" text-anchor="middle" fill="#4a4a4a">10<tspan font-size="2.2" dy="-1.1">5</tspan></text>
<text x="154.8" y="335.09999999999997" font-size="3.0" text-anchor="end" fill="#4a4a4a">-10<tspan font-size="2.2" dy="-1.1">3</tspan></text>
<path d="M154.20000000000002,293.3h1.1M154.20000000000002,294.56h1.1M154.20000000000002,295.81h1.1M154.20000000000002,297.07h1.1M154.20000000000002,298.32h1.1M154.20000000000002,299.58h1.1M154.20000000000002,300.83h1.1M154.20000000000002,302.09h1.1M154.20000000000002,303.34h1.1M154.20000000000002,304.6h1.1M154.20000000000002,305.86h1.1M154.20000000000002,307.11h1.1M154.20000000000002,308.37h1.1M154.20000000000002,309.62h1.1M154.20000000000002,310.88h1.1M154.20000000000002,312.13h1.1M154.20000000000002,313.39h1.1M154.20000000000002,314.64h1.1M154.20000000000002,315.9h1.1M154.20000000000002,317.16h1.1M154.20000000000002,318.41h1.1M154.20000000000002,319.67h1.1M154.20000000000002,320.92h1.1M154.20000000000002,322.18h1.1M154.20000000000002,323.43h1.1M154.20000000000002,324.69h1.1M154.20000000000002,325.94h1.1M154.20000000000002,327.2h1.1M156.8,328.7v1.1M158.2,328.7v1.1M159.6,328.7v1.1M161.0,328.7v1.1M162.4,328.7v1.1M163.8,328.7v1.1M165.2,328.7v1.1M166.6,328.7v1.1M168.0,328.7v1.1M169.4,328.7v1.1M170.8,328.7v1.1M172.2,328.7v1.1M173.6,328.7v1.1M175.0,328.7v1.1M176.4,328.7v1.1M177.8,328.7v1.1M179.2,328.7v1.1M180.6,328.7v1.1M182.0,328.7v1.1M183.4,328.7v1.1M184.8,328.7v1.1M186.2,328.7v1.1M187.6,328.7v1.1M189.0,328.7v1.1M190.4,328.7v1.1M191.8,328.7v1.1M193.2,328.7v1.1M194.6,328.7v1.1M153.10000000000002,295.8h2.2M153.10000000000002,303.4h2.2M153.10000000000002,312.6h2.2M153.10000000000002,318.9h2.2M153.10000000000002,326.0h2.2M163.3,328.7v2.2M170.8,328.7v2.2M181.3,328.7v2.2M189.9,328.7v2.2" stroke="#222" stroke-width="0.75" fill="none"/>
<rect x="229.1" y="152.2" width="41.400000000000006" height="36.9" fill="none" stroke="#1e1e1e" stroke-width="1.1"/>
<text x="224.5" y="156.2" font-size="3.1" text-anchor="middle" fill="#4a4a4a" transform="rotate(-90 224.5 156.2)">10<tspan font-size="2.2" dy="-1.1">5</tspan></text>
<text x="224.5" y="163.8" font-size="3.1" text-anchor="middle" fill="#4a4a4a" transform="rotate(-90 224.5 163.8)">10<tspan font-size="2.2" dy="-1.1">4</tspan></text>
<text x="224.5" y="173.0" font-size="3.1" text-anchor="middle" fill="#4a4a4a" transform="rotate(-90 224.5 173.0)">10<tspan font-size="2.2" dy="-1.1">3</tspan></text>
<text x="224.5" y="179.3" font-size="3.1" text-anchor="middle" fill="#4a4a4a" transform="rotate(-90 224.5 179.3)">0</text>
<text x="224.5" y="186.4" font-size="3.1" text-anchor="middle" fill="#4a4a4a" transform="rotate(-90 224.5 186.4)">-10<tspan font-size="2.2" dy="-1.1">3</tspan></text>
<text x="237.1" y="194.9" font-size="3.1" text-anchor="middle" fill="#4a4a4a">0</text>
<text x="244.6" y="194.9" font-size="3.1" text-anchor="middle" fill="#4a4a4a">10<tspan font-size="2.2" dy="-1.1">3</tspan></text>
<text x="255.1" y="194.9" font-size="3.1" text-anchor="middle" fill="#4a4a4a">10<tspan font-size="2.2" dy="-1.1">4</tspan></text>
<text x="263.7" y="194.9" font-size="3.1" text-anchor="middle" fill="#4a4a4a">10<tspan font-size="2.2" dy="-1.1">5</tspan></text>
<text x="228.6" y="195.5" font-size="3.0" text-anchor="end" fill="#4a4a4a">-10<tspan font-size="2.2" dy="-1.1">3</tspan></text>
<path d="M228.0,153.7h1.1M228.0,154.96h1.1M228.0,156.21h1.1M228.0,157.47h1.1M228.0,158.72h1.1M228.0,159.98h1.1M228.0,161.23h1.1M228.0,162.49h1.1M228.0,163.74h1.1M228.0,165.0h1.1M228.0,166.26h1.1M228.0,167.51h1.1M228.0,168.77h1.1M228.0,170.02h1.1M228.0,171.28h1.1M228.0,172.53h1.1M228.0,173.79h1.1M228.0,175.04h1.1M228.0,176.3h1.1M228.0,177.56h1.1M228.0,178.81h1.1M228.0,180.07h1.1M228.0,181.32h1.1M228.0,182.58h1.1M228.0,183.83h1.1M228.0,185.09h1.1M228.0,186.34h1.1M228.0,187.6h1.1M230.6,189.1v1.1M232.02,189.1v1.1M233.44,189.1v1.1M234.87,189.1v1.1M236.29,189.1v1.1M237.71,189.1v1.1M239.13,189.1v1.1M240.56,189.1v1.1M241.98,189.1v1.1M243.4,189.1v1.1M244.82,189.1v1.1M246.24,189.1v1.1M247.67,189.1v1.1M249.09,189.1v1.1M250.51,189.1v1.1M251.93,189.1v1.1M253.36,189.1v1.1M254.78,189.1v1.1M256.2,189.1v1.1M257.62,189.1v1.1M259.04,189.1v1.1M260.47,189.1v1.1M261.89,189.1v1.1M263.31,189.1v1.1M264.73,189.1v1.1M266.16,189.1v1.1M267.58,189.1v1.1M269.0,189.1v1.1M226.9,156.2h2.2M226.9,163.8h2.2M226.9,173.0h2.2M226.9,179.3h2.2M226.9,186.4h2.2M237.1,189.1v2.2M244.6,189.1v2.2M255.1,189.1v2.2M263.7,189.1v2.2" stroke="#222" stroke-width="0.75" fill="none"/>
<rect x="229.1" y="198.9" width="41.400000000000006" height="36.9" fill="none" stroke="#1e1e1e" stroke-width="1.1"/>
<text x="224.5" y="202.9" font-size="3.1" text-anchor="middle" fill="#4a4a4a" transform="rotate(-90 224.5 202.9)">10<tspan font-size="2.2" dy="-1.1">5</tspan></text>
<text x="224.5" y="210.5" font-size="3.1" text-anchor="middle" fill="#4a4a4a" transform="rotate(-90 224.5 210.5)">10<tspan font-size="2.2" dy="-1.1">4</tspan></text>
<text x="224.5" y="219.7" font-size="3.1" text-anchor="middle" fill="#4a4a4a" transform="rotate(-90 224.5 219.7)">10<tspan font-size="2.2" dy="-1.1">3</tspan></text>
<text x="224.5" y="226.0" font-size="3.1" text-anchor="middle" fill="#4a4a4a" transform="rotate(-90 224.5 226.0)">0</text>
<text x="224.5" y="233.1" font-size="3.1" text-anchor="middle" fill="#4a4a4a" transform="rotate(-90 224.5 233.1)">-10<tspan font-size="2.2" dy="-1.1">3</tspan></text>
<text x="237.1" y="241.60000000000002" font-size="3.1" text-anchor="middle" fill="#4a4a4a">0</text>
<text x="244.6" y="241.60000000000002" font-size="3.1" text-anchor="middle" fill="#4a4a4a">10<tspan font-size="2.2" dy="-1.1">3</tspan></text>
<text x="255.1" y="241.60000000000002" font-size="3.1" text-anchor="middle" fill="#4a4a4a">10<tspan font-size="2.2" dy="-1.1">4</tspan></text>
<text x="263.7" y="241.60000000000002" font-size="3.1" text-anchor="middle" fill="#4a4a4a">10<tspan font-size="2.2" dy="-1.1">5</tspan></text>
<text x="228.6" y="242.20000000000002" font-size="3.0" text-anchor="end" fill="#4a4a4a">-10<tspan font-size="2.2" dy="-1.1">3</tspan></text>
<path d="M228.0,200.4h1.1M228.0,201.66h1.1M228.0,202.91h1.1M228.0,204.17h1.1M228.0,205.42h1.1M228.0,206.68h1.1M228.0,207.93h1.1M228.0,209.19h1.1M228.0,210.44h1.1M228.0,211.7h1.1M228.0,212.96h1.1M228.0,214.21h1.1M228.0,215.47h1.1M228.0,216.72h1.1M228.0,217.98h1.1M228.0,219.23h1.1M228.0,220.49h1.1M228.0,221.74h1.1M228.0,223.0h1.1M228.0,224.26h1.1M228.0,225.51h1.1M228.0,226.77h1.1M228.0,228.02h1.1M228.0,229.28h1.1M228.0,230.53h1.1M228.0,231.79h1.1M228.0,233.04h1.1M228.0,234.3h1.1M230.6,235.8v1.1M232.02,235.8v1.1M233.44,235.8v1.1M234.87,235.8v1.1M236.29,235.8v1.1M237.71,235.8v1.1M239.13,235.8v1.1M240.56,235.8v1.1M241.98,235.8v1.1M243.4,235.8v1.1M244.82,235.8v1.1M246.24,235.8v1.1M247.67,235.8v1.1M249.09,235.8v1.1M250.51,235.8v1.1M251.93,235.8v1.1M253.36,235.8v1.1M254.78,235.8v1.1M256.2,235.8v1.1M257.62,235.8v1.1M259.04,235.8v1.1M260.47,235.8v1.1M261.89,235.8v1.1M263.31,235.8v1.1M264.73,235.8v1.1M266.16,235.8v1.1M267.58,235.8v1.1M269.0,235.8v1.1M226.9,202.9h2.2M226.9,210.5h2.2M226.9,219.7h2.2M226.9,226.0h2.2M226.9,233.1h2.2M237.1,235.8v2.2M244.6,235.8v2.2M255.1,235.8v2.2M263.7,235.8v2.2" stroke="#222" stroke-width="0.75" fill="none"/>
<rect x="229.1" y="245.4" width="41.400000000000006" height="36.9" fill="none" stroke="#1e1e1e" stroke-width="1.1"/>
<text x="224.5" y="249.4" font-size="3.1" text-anchor="middle" fill="#4a4a4a" transform="rotate(-90 224.5 249.4)">10<tspan font-size="2.2" dy="-1.1">5</tspan></text>
<text x="224.5" y="257.0" font-size="3.1" text-anchor="middle" fill="#4a4a4a" transform="rotate(-90 224.5 257.0)">10<tspan font-size="2.2" dy="-1.1">4</tspan></text>
<text x="224.5" y="266.2" font-size="3.1" text-anchor="middle" fill="#4a4a4a" transform="rotate(-90 224.5 266.2)">10<tspan font-size="2.2" dy="-1.1">3</tspan></text>
<text x="224.5" y="272.5" font-size="3.1" text-anchor="middle" fill="#4a4a4a" transform="rotate(-90 224.5 272.5)">0</text>
<text x="224.5" y="279.6" font-size="3.1" text-anchor="middle" fill="#4a4a4a" transform="rotate(-90 224.5 279.6)">-10<tspan font-size="2.2" dy="-1.1">3</tspan></text>
<text x="237.1" y="288.1" font-size="3.1" text-anchor="middle" fill="#4a4a4a">0</text>
<text x="244.6" y="288.1" font-size="3.1" text-anchor="middle" fill="#4a4a4a">10<tspan font-size="2.2" dy="-1.1">3</tspan></text>
<text x="255.1" y="288.1" font-size="3.1" text-anchor="middle" fill="#4a4a4a">10<tspan font-size="2.2" dy="-1.1">4</tspan></text>
<text x="263.7" y="288.1" font-size="3.1" text-anchor="middle" fill="#4a4a4a">10<tspan font-size="2.2" dy="-1.1">5</tspan></text>
<text x="228.6" y="288.7" font-size="3.0" text-anchor="end" fill="#4a4a4a">-10<tspan font-size="2.2" dy="-1.1">3</tspan></text>
<path d="M228.0,246.9h1.1M228.0,248.16h1.1M228.0,249.41h1.1M228.0,250.67h1.1M228.0,251.92h1.1M228.0,253.18h1.1M228.0,254.43h1.1M228.0,255.69h1.1M228.0,256.94h1.1M228.0,258.2h1.1M228.0,259.46h1.1M228.0,260.71h1.1M228.0,261.97h1.1M228.0,263.22h1.1M228.0,264.48h1.1M228.0,265.73h1.1M228.0,266.99h1.1M228.0,268.24h1.1M228.0,269.5h1.1M228.0,270.76h1.1M228.0,272.01h1.1M228.0,273.27h1.1M228.0,274.52h1.1M228.0,275.78h1.1M228.0,277.03h1.1M228.0,278.29h1.1M228.0,279.54h1.1M228.0,280.8h1.1M230.6,282.3v1.1M232.02,282.3v1.1M233.44,282.3v1.1M234.87,282.3v1.1M236.29,282.3v1.1M237.71,282.3v1.1M239.13,282.3v1.1M240.56,282.3v1.1M241.98,282.3v1.1M243.4,282.3v1.1M244.82,282.3v1.1M246.24,282.3v1.1M247.67,282.3v1.1M249.09,282.3v1.1M250.51,282.3v1.1M251.93,282.3v1.1M253.36,282.3v1.1M254.78,282.3v1.1M256.2,282.3v1.1M257.62,282.3v1.1M259.04,282.3v1.1M260.47,282.3v1.1M261.89,282.3v1.1M263.31,282.3v1.1M264.73,282.3v1.1M266.16,282.3v1.1M267.58,282.3v1.1M269.0,282.3v1.1M226.9,249.4h2.2M226.9,257.0h2.2M226.9,266.2h2.2M226.9,272.5h2.2M226.9,279.6h2.2M237.1,282.3v2.2M244.6,282.3v2.2M255.1,282.3v2.2M263.7,282.3v2.2" stroke="#222" stroke-width="0.75" fill="none"/>
<rect x="229.1" y="291.8" width="41.400000000000006" height="36.9" fill="none" stroke="#1e1e1e" stroke-width="1.1"/>
<text x="224.5" y="295.8" font-size="3.1" text-anchor="middle" fill="#4a4a4a" transform="rotate(-90 224.5 295.8)">10<tspan font-size="2.2" dy="-1.1">5</tspan></text>
<text x="224.5" y="303.4" font-size="3.1" text-anchor="middle" fill="#4a4a4a" transform="rotate(-90 224.5 303.4)">10<tspan font-size="2.2" dy="-1.1">4</tspan></text>
<text x="224.5" y="312.6" font-size="3.1" text-anchor="middle" fill="#4a4a4a" transform="rotate(-90 224.5 312.6)">10<tspan font-size="2.2" dy="-1.1">3</tspan></text>
<text x="224.5" y="318.9" font-size="3.1" text-anchor="middle" fill="#4a4a4a" transform="rotate(-90 224.5 318.9)">0</text>
<text x="224.5" y="326.0" font-size="3.1" text-anchor="middle" fill="#4a4a4a" transform="rotate(-90 224.5 326.0)">-10<tspan font-size="2.2" dy="-1.1">3</tspan></text>
<text x="237.1" y="334.5" font-size="3.1" text-anchor="middle" fill="#4a4a4a">0</text>
<text x="244.6" y="334.5" font-size="3.1" text-anchor="middle" fill="#4a4a4a">10<tspan font-size="2.2" dy="-1.1">3</tspan></text>
<text x="255.1" y="334.5" font-size="3.1" text-anchor="middle" fill="#4a4a4a">10<tspan font-size="2.2" dy="-1.1">4</tspan></text>
<text x="263.7" y="334.5" font-size="3.1" text-anchor="middle" fill="#4a4a4a">10<tspan font-size="2.2" dy="-1.1">5</tspan></text>
<text x="228.6" y="335.09999999999997" font-size="3.0" text-anchor="end" fill="#4a4a4a">-10<tspan font-size="2.2" dy="-1.1">3</tspan></text>
<path d="M228.0,293.3h1.1M228.0,294.56h1.1M228.0,295.81h1.1M228.0,297.07h1.1M228.0,298.32h1.1M228.0,299.58h1.1M228.0,300.83h1.1M228.0,302.09h1.1M228.0,303.34h1.1M228.0,304.6h1.1M228.0,305.86h1.1M228.0,307.11h1.1M228.0,308.37h1.1M228.0,309.62h1.1M228.0,310.88h1.1M228.0,312.13h1.1M228.0,313.39h1.1M228.0,314.64h1.1M228.0,315.9h1.1M228.0,317.16h1.1M228.0,318.41h1.1M228.0,319.67h1.1M228.0,320.92h1.1M228.0,322.18h1.1M228.0,323.43h1.1M228.0,324.69h1.1M228.0,325.94h1.1M228.0,327.2h1.1M230.6,328.7v1.1M232.02,328.7v1.1M233.44,328.7v1.1M234.87,328.7v1.1M236.29,328.7v1.1M237.71,328.7v1.1M239.13,328.7v1.1M240.56,328.7v1.1M241.98,328.7v1.1M243.4,328.7v1.1M244.82,328.7v1.1M246.24,328.7v1.1M247.67,328.7v1.1M249.09,328.7v1.1M250.51,328.7v1.1M251.93,328.7v1.1M253.36,328.7v1.1M254.78,328.7v1.1M256.2,328.7v1.1M257.62,328.7v1.1M259.04,328.7v1.1M260.47,328.7v1.1M261.89,328.7v1.1M263.31,328.7v1.1M264.73,328.7v1.1M266.16,328.7v1.1M267.58,328.7v1.1M269.0,328.7v1.1M226.9,295.8h2.2M226.9,303.4h2.2M226.9,312.6h2.2M226.9,318.9h2.2M226.9,326.0h2.2M237.1,328.7v2.2M244.6,328.7v2.2M255.1,328.7v2.2M263.7,328.7v2.2" stroke="#222" stroke-width="0.75" fill="none"/>
<rect x="315.4" y="152.2" width="40.60000000000002" height="36.9" fill="none" stroke="#1e1e1e" stroke-width="1.1"/>
<text x="312.4" y="183.5" font-size="2.8" text-anchor="end" fill="#4a4a4a">50</text>
<text x="312.4" y="176.57" font-size="2.8" text-anchor="end" fill="#4a4a4a">100</text>
<text x="312.4" y="169.64" font-size="2.8" text-anchor="end" fill="#4a4a4a">150</text>
<text x="312.4" y="162.71" font-size="2.8" text-anchor="end" fill="#4a4a4a">200</text>
<text x="312.4" y="155.78" font-size="2.8" text-anchor="end" fill="#4a4a4a">250</text>
<text x="303.4" y="159.39999999999998" font-size="3.1" text-anchor="middle" fill="#333" transform="rotate(-90 303.4 159.39999999999998)">(x 1,000)</text>
<text x="321.4" y="194.79999999999998" font-size="3.1" text-anchor="middle" fill="#4a4a4a">10<tspan font-size="2.2" dy="-1.1">2</tspan></text>
<text x="331.7" y="194.79999999999998" font-size="3.1" text-anchor="middle" fill="#4a4a4a">10<tspan font-size="2.2" dy="-1.1">3</tspan></text>
<text x="342.0" y="194.79999999999998" font-size="3.1" text-anchor="middle" fill="#4a4a4a">10<tspan font-size="2.2" dy="-1.1">4</tspan></text>
<text x="352.3" y="194.79999999999998" font-size="3.1" text-anchor="middle" fill="#4a4a4a">10<tspan font-size="2.2" dy="-1.1">5</tspan></text>
<path d="M313.2,182.5H315.4M313.2,175.57H315.4M313.2,168.64H315.4M313.2,161.71H315.4M313.2,154.78H315.4M321.4,189.1v2.2M331.7,189.1v2.2M342.0,189.1v2.2M352.3,189.1v2.2M317.4,189.1v1M320.3,189.1v1M323.2,189.1v1M326.1,189.1v1M329.0,189.1v1M331.9,189.1v1M334.8,189.1v1M337.7,189.1v1M340.6,189.1v1M343.5,189.1v1M346.4,189.1v1M349.3,189.1v1M352.2,189.1v1M355.1,189.1v1M314.4,187.1h1M314.4,184.2h1M314.4,181.3h1M314.4,178.4h1M314.4,175.5h1M314.4,172.6h1M314.4,169.7h1M314.4,166.8h1M314.4,163.9h1M314.4,161.0h1M314.4,158.1h1M314.4,155.2h1" stroke="#222" stroke-width="0.7" fill="none"/>
<rect x="315.4" y="198.9" width="40.60000000000002" height="36.9" fill="none" stroke="#1e1e1e" stroke-width="1.1"/>
<text x="312.4" y="230.2" font-size="2.8" text-anchor="end" fill="#4a4a4a">50</text>
<text x="312.4" y="223.27" font-size="2.8" text-anchor="end" fill="#4a4a4a">100</text>
<text x="312.4" y="216.34" font-size="2.8" text-anchor="end" fill="#4a4a4a">150</text>
<text x="312.4" y="209.41" font-size="2.8" text-anchor="end" fill="#4a4a4a">200</text>
<text x="312.4" y="202.48" font-size="2.8" text-anchor="end" fill="#4a4a4a">250</text>
<text x="303.4" y="206.1" font-size="3.1" text-anchor="middle" fill="#333" transform="rotate(-90 303.4 206.1)">(x 1,000)</text>
<text x="321.4" y="241.5" font-size="3.1" text-anchor="middle" fill="#4a4a4a">10<tspan font-size="2.2" dy="-1.1">2</tspan></text>
<text x="331.7" y="241.5" font-size="3.1" text-anchor="middle" fill="#4a4a4a">10<tspan font-size="2.2" dy="-1.1">3</tspan></text>
<text x="342.0" y="241.5" font-size="3.1" text-anchor="middle" fill="#4a4a4a">10<tspan font-size="2.2" dy="-1.1">4</tspan></text>
<text x="352.3" y="241.5" font-size="3.1" text-anchor="middle" fill="#4a4a4a">10<tspan font-size="2.2" dy="-1.1">5</tspan></text>
<path d="M313.2,229.2H315.4M313.2,222.27H315.4M313.2,215.34H315.4M313.2,208.41H315.4M313.2,201.48H315.4M321.4,235.8v2.2M331.7,235.8v2.2M342.0,235.8v2.2M352.3,235.8v2.2M317.4,235.8v1M320.3,235.8v1M323.2,235.8v1M326.1,235.8v1M329.0,235.8v1M331.9,235.8v1M334.8,235.8v1M337.7,235.8v1M340.6,235.8v1M343.5,235.8v1M346.4,235.8v1M349.3,235.8v1M352.2,235.8v1M355.1,235.8v1M314.4,233.8h1M314.4,230.9h1M314.4,228.0h1M314.4,225.1h1M314.4,222.2h1M314.4,219.3h1M314.4,216.4h1M314.4,213.5h1M314.4,210.6h1M314.4,207.7h1M314.4,204.8h1M314.4,201.9h1" stroke="#222" stroke-width="0.7" fill="none"/>
<rect x="315.4" y="245.4" width="40.60000000000002" height="36.9" fill="none" stroke="#1e1e1e" stroke-width="1.1"/>
<text x="312.4" y="276.7" font-size="2.8" text-anchor="end" fill="#4a4a4a">50</text>
<text x="312.4" y="269.77" font-size="2.8" text-anchor="end" fill="#4a4a4a">100</text>
<text x="312.4" y="262.84" font-size="2.8" text-anchor="end" fill="#4a4a4a">150</text>
<text x="312.4" y="255.91" font-size="2.8" text-anchor="end" fill="#4a4a4a">200</text>
<text x="312.4" y="248.98" font-size="2.8" text-anchor="end" fill="#4a4a4a">250</text>
<text x="303.4" y="252.6" font-size="3.1" text-anchor="middle" fill="#333" transform="rotate(-90 303.4 252.6)">(x 1,000)</text>
<text x="321.4" y="288.0" font-size="3.1" text-anchor="middle" fill="#4a4a4a">10<tspan font-size="2.2" dy="-1.1">2</tspan></text>
<text x="331.7" y="288.0" font-size="3.1" text-anchor="middle" fill="#4a4a4a">10<tspan font-size="2.2" dy="-1.1">3</tspan></text>
<text x="342.0" y="288.0" font-size="3.1" text-anchor="middle" fill="#4a4a4a">10<tspan font-size="2.2" dy="-1.1">4</tspan></text>
<text x="352.3" y="288.0" font-size="3.1" text-anchor="middle" fill="#4a4a4a">10<tspan font-size="2.2" dy="-1.1">5</tspan></text>
<path d="M313.2,275.7H315.4M313.2,268.77H315.4M313.2,261.84H315.4M313.2,254.91H315.4M313.2,247.98H315.4M321.4,282.3v2.2M331.7,282.3v2.2M342.0,282.3v2.2M352.3,282.3v2.2M317.4,282.3v1M320.3,282.3v1M323.2,282.3v1M326.1,282.3v1M329.0,282.3v1M331.9,282.3v1M334.8,282.3v1M337.7,282.3v1M340.6,282.3v1M343.5,282.3v1M346.4,282.3v1M349.3,282.3v1M352.2,282.3v1M355.1,282.3v1M314.4,280.3h1M314.4,277.4h1M314.4,274.5h1M314.4,271.6h1M314.4,268.7h1M314.4,265.8h1M314.4,262.9h1M314.4,260.0h1M314.4,257.1h1M314.4,254.2h1M314.4,251.3h1M314.4,248.4h1" stroke="#222" stroke-width="0.7" fill="none"/>
<rect x="315.4" y="291.8" width="40.60000000000002" height="36.9" fill="none" stroke="#1e1e1e" stroke-width="1.1"/>
<text x="312.4" y="323.1" font-size="2.8" text-anchor="end" fill="#4a4a4a">50</text>
<text x="312.4" y="316.17" font-size="2.8" text-anchor="end" fill="#4a4a4a">100</text>
<text x="312.4" y="309.24" font-size="2.8" text-anchor="end" fill="#4a4a4a">150</text>
<text x="312.4" y="302.31" font-size="2.8" text-anchor="end" fill="#4a4a4a">200</text>
<text x="312.4" y="295.38" font-size="2.8" text-anchor="end" fill="#4a4a4a">250</text>
<text x="303.4" y="299.0" font-size="3.1" text-anchor="middle" fill="#333" transform="rotate(-90 303.4 299.0)">(x 1,000)</text>
<text x="321.4" y="334.4" font-size="3.1" text-anchor="middle" fill="#4a4a4a">10<tspan font-size="2.2" dy="-1.1">2</tspan></text>
<text x="331.7" y="334.4" font-size="3.1" text-anchor="middle" fill="#4a4a4a">10<tspan font-size="2.2" dy="-1.1">3</tspan></text>
<text x="342.0" y="334.4" font-size="3.1" text-anchor="middle" fill="#4a4a4a">10<tspan font-size="2.2" dy="-1.1">4</tspan></text>
<text x="352.3" y="334.4" font-size="3.1" text-anchor="middle" fill="#4a4a4a">10<tspan font-size="2.2" dy="-1.1">5</tspan></text>
<path d="M313.2,322.1H315.4M313.2,315.17H315.4M313.2,308.24H315.4M313.2,301.31H315.4M313.2,294.38H315.4M321.4,328.7v2.2M331.7,328.7v2.2M342.0,328.7v2.2M352.3,328.7v2.2M317.4,328.7v1M320.3,328.7v1M323.2,328.7v1M326.1,328.7v1M329.0,328.7v1M331.9,328.7v1M334.8,328.7v1M337.7,328.7v1M340.6,328.7v1M343.5,328.7v1M346.4,328.7v1M349.3,328.7v1M352.2,328.7v1M355.1,328.7v1M314.4,326.7h1M314.4,323.8h1M314.4,320.9h1M314.4,318.0h1M314.4,315.1h1M314.4,312.2h1M314.4,309.3h1M314.4,306.4h1M314.4,303.5h1M314.4,300.6h1M314.4,297.7h1M314.4,294.8h1" stroke="#222" stroke-width="0.7" fill="none"/>
<rect x="389.3" y="152.2" width="41.19999999999999" height="36.9" fill="none" stroke="#1e1e1e" stroke-width="1.1"/>
<text x="384.7" y="156.2" font-size="3.1" text-anchor="middle" fill="#4a4a4a" transform="rotate(-90 384.7 156.2)">10<tspan font-size="2.2" dy="-1.1">5</tspan></text>
<text x="384.7" y="163.8" font-size="3.1" text-anchor="middle" fill="#4a4a4a" transform="rotate(-90 384.7 163.8)">10<tspan font-size="2.2" dy="-1.1">4</tspan></text>
<text x="384.7" y="173.0" font-size="3.1" text-anchor="middle" fill="#4a4a4a" transform="rotate(-90 384.7 173.0)">10<tspan font-size="2.2" dy="-1.1">3</tspan></text>
<text x="384.7" y="179.3" font-size="3.1" text-anchor="middle" fill="#4a4a4a" transform="rotate(-90 384.7 179.3)">0</text>
<text x="384.7" y="186.4" font-size="3.1" text-anchor="middle" fill="#4a4a4a" transform="rotate(-90 384.7 186.4)">-10<tspan font-size="2.2" dy="-1.1">3</tspan></text>
<text x="397.3" y="194.9" font-size="3.1" text-anchor="middle" fill="#4a4a4a">0</text>
<text x="404.8" y="194.9" font-size="3.1" text-anchor="middle" fill="#4a4a4a">10<tspan font-size="2.2" dy="-1.1">3</tspan></text>
<text x="415.3" y="194.9" font-size="3.1" text-anchor="middle" fill="#4a4a4a">10<tspan font-size="2.2" dy="-1.1">4</tspan></text>
<text x="423.9" y="194.9" font-size="3.1" text-anchor="middle" fill="#4a4a4a">10<tspan font-size="2.2" dy="-1.1">5</tspan></text>
<text x="388.8" y="195.5" font-size="3.0" text-anchor="end" fill="#4a4a4a">-10<tspan font-size="2.2" dy="-1.1">3</tspan></text>
<path d="M388.2,153.7h1.1M388.2,154.96h1.1M388.2,156.21h1.1M388.2,157.47h1.1M388.2,158.72h1.1M388.2,159.98h1.1M388.2,161.23h1.1M388.2,162.49h1.1M388.2,163.74h1.1M388.2,165.0h1.1M388.2,166.26h1.1M388.2,167.51h1.1M388.2,168.77h1.1M388.2,170.02h1.1M388.2,171.28h1.1M388.2,172.53h1.1M388.2,173.79h1.1M388.2,175.04h1.1M388.2,176.3h1.1M388.2,177.56h1.1M388.2,178.81h1.1M388.2,180.07h1.1M388.2,181.32h1.1M388.2,182.58h1.1M388.2,183.83h1.1M388.2,185.09h1.1M388.2,186.34h1.1M388.2,187.6h1.1M390.8,189.1v1.1M392.21,189.1v1.1M393.63,189.1v1.1M395.04,189.1v1.1M396.46,189.1v1.1M397.87,189.1v1.1M399.29,189.1v1.1M400.7,189.1v1.1M402.12,189.1v1.1M403.53,189.1v1.1M404.95,189.1v1.1M406.36,189.1v1.1M407.78,189.1v1.1M409.19,189.1v1.1M410.61,189.1v1.1M412.02,189.1v1.1M413.44,189.1v1.1M414.85,189.1v1.1M416.27,189.1v1.1M417.68,189.1v1.1M419.1,189.1v1.1M420.51,189.1v1.1M421.93,189.1v1.1M423.34,189.1v1.1M424.76,189.1v1.1M426.17,189.1v1.1M427.59,189.1v1.1M429.0,189.1v1.1M387.1,156.2h2.2M387.1,163.8h2.2M387.1,173.0h2.2M387.1,179.3h2.2M387.1,186.4h2.2M397.3,189.1v2.2M404.8,189.1v2.2M415.3,189.1v2.2M423.9,189.1v2.2" stroke="#222" stroke-width="0.75" fill="none"/>
<rect x="389.3" y="198.9" width="41.19999999999999" height="36.9" fill="none" stroke="#1e1e1e" stroke-width="1.1"/>
<text x="384.7" y="202.9" font-size="3.1" text-anchor="middle" fill="#4a4a4a" transform="rotate(-90 384.7 202.9)">10<tspan font-size="2.2" dy="-1.1">5</tspan></text>
<text x="384.7" y="210.5" font-size="3.1" text-anchor="middle" fill="#4a4a4a" transform="rotate(-90 384.7 210.5)">10<tspan font-size="2.2" dy="-1.1">4</tspan></text>
<text x="384.7" y="219.7" font-size="3.1" text-anchor="middle" fill="#4a4a4a" transform="rotate(-90 384.7 219.7)">10<tspan font-size="2.2" dy="-1.1">3</tspan></text>
<text x="384.7" y="226.0" font-size="3.1" text-anchor="middle" fill="#4a4a4a" transform="rotate(-90 384.7 226.0)">0</text>
<text x="384.7" y="233.1" font-size="3.1" text-anchor="middle" fill="#4a4a4a" transform="rotate(-90 384.7 233.1)">-10<tspan font-size="2.2" dy="-1.1">3</tspan></text>
<text x="397.3" y="241.60000000000002" font-size="3.1" text-anchor="middle" fill="#4a4a4a">0</text>
<text x="404.8" y="241.60000000000002" font-size="3.1" text-anchor="middle" fill="#4a4a4a">10<tspan font-size="2.2" dy="-1.1">3</tspan></text>
<text x="415.3" y="241.60000000000002" font-size="3.1" text-anchor="middle" fill="#4a4a4a">10<tspan font-size="2.2" dy="-1.1">4</tspan></text>
<text x="423.9" y="241.60000000000002" font-size="3.1" text-anchor="middle" fill="#4a4a4a">10<tspan font-size="2.2" dy="-1.1">5</tspan></text>
<text x="388.8" y="242.20000000000002" font-size="3.0" text-anchor="end" fill="#4a4a4a">-10<tspan font-size="2.2" dy="-1.1">3</tspan></text>
<path d="M388.2,200.4h1.1M388.2,201.66h1.1M388.2,202.91h1.1M388.2,204.17h1.1M388.2,205.42h1.1M388.2,206.68h1.1M388.2,207.93h1.1M388.2,209.19h1.1M388.2,210.44h1.1M388.2,211.7h1.1M388.2,212.96h1.1M388.2,214.21h1.1M388.2,215.47h1.1M388.2,216.72h1.1M388.2,217.98h1.1M388.2,219.23h1.1M388.2,220.49h1.1M388.2,221.74h1.1M388.2,223.0h1.1M388.2,224.26h1.1M388.2,225.51h1.1M388.2,226.77h1.1M388.2,228.02h1.1M388.2,229.28h1.1M388.2,230.53h1.1M388.2,231.79h1.1M388.2,233.04h1.1M388.2,234.3h1.1M390.8,235.8v1.1M392.21,235.8v1.1M393.63,235.8v1.1M395.04,235.8v1.1M396.46,235.8v1.1M397.87,235.8v1.1M399.29,235.8v1.1M400.7,235.8v1.1M402.12,235.8v1.1M403.53,235.8v1.1M404.95,235.8v1.1M406.36,235.8v1.1M407.78,235.8v1.1M409.19,235.8v1.1M410.61,235.8v1.1M412.02,235.8v1.1M413.44,235.8v1.1M414.85,235.8v1.1M416.27,235.8v1.1M417.68,235.8v1.1M419.1,235.8v1.1M420.51,235.8v1.1M421.93,235.8v1.1M423.34,235.8v1.1M424.76,235.8v1.1M426.17,235.8v1.1M427.59,235.8v1.1M429.0,235.8v1.1M387.1,202.9h2.2M387.1,210.5h2.2M387.1,219.7h2.2M387.1,226.0h2.2M387.1,233.1h2.2M397.3,235.8v2.2M404.8,235.8v2.2M415.3,235.8v2.2M423.9,235.8v2.2" stroke="#222" stroke-width="0.75" fill="none"/>
<rect x="389.3" y="245.4" width="41.19999999999999" height="36.9" fill="none" stroke="#1e1e1e" stroke-width="1.1"/>
<text x="384.7" y="249.4" font-size="3.1" text-anchor="middle" fill="#4a4a4a" transform="rotate(-90 384.7 249.4)">10<tspan font-size="2.2" dy="-1.1">5</tspan></text>
<text x="384.7" y="257.0" font-size="3.1" text-anchor="middle" fill="#4a4a4a" transform="rotate(-90 384.7 257.0)">10<tspan font-size="2.2" dy="-1.1">4</tspan></text>
<text x="384.7" y="266.2" font-size="3.1" text-anchor="middle" fill="#4a4a4a" transform="rotate(-90 384.7 266.2)">10<tspan font-size="2.2" dy="-1.1">3</tspan></text>
<text x="384.7" y="272.5" font-size="3.1" text-anchor="middle" fill="#4a4a4a" transform="rotate(-90 384.7 272.5)">0</text>
<text x="384.7" y="279.6" font-size="3.1" text-anchor="middle" fill="#4a4a4a" transform="rotate(-90 384.7 279.6)">-10<tspan font-size="2.2" dy="-1.1">3</tspan></text>
<text x="397.3" y="288.1" font-size="3.1" text-anchor="middle" fill="#4a4a4a">0</text>
<text x="404.8" y="288.1" font-size="3.1" text-anchor="middle" fill="#4a4a4a">10<tspan font-size="2.2" dy="-1.1">3</tspan></text>
<text x="415.3" y="288.1" font-size="3.1" text-anchor="middle" fill="#4a4a4a">10<tspan font-size="2.2" dy="-1.1">4</tspan></text>
<text x="423.9" y="288.1" font-size="3.1" text-anchor="middle" fill="#4a4a4a">10<tspan font-size="2.2" dy="-1.1">5</tspan></text>
<text x="388.8" y="288.7" font-size="3.0" text-anchor="end" fill="#4a4a4a">-10<tspan font-size="2.2" dy="-1.1">3</tspan></text>
<path d="M388.2,246.9h1.1M388.2,248.16h1.1M388.2,249.41h1.1M388.2,250.67h1.1M388.2,251.92h1.1M388.2,253.18h1.1M388.2,254.43h1.1M388.2,255.69h1.1M388.2,256.94h1.1M388.2,258.2h1.1M388.2,259.46h1.1M388.2,260.71h1.1M388.2,261.97h1.1M388.2,263.22h1.1M388.2,264.48h1.1M388.2,265.73h1.1M388.2,266.99h1.1M388.2,268.24h1.1M388.2,269.5h1.1M388.2,270.76h1.1M388.2,272.01h1.1M388.2,273.27h1.1M388.2,274.52h1.1M388.2,275.78h1.1M388.2,277.03h1.1M388.2,278.29h1.1M388.2,279.54h1.1M388.2,280.8h1.1M390.8,282.3v1.1M392.21,282.3v1.1M393.63,282.3v1.1M395.04,282.3v1.1M396.46,282.3v1.1M397.87,282.3v1.1M399.29,282.3v1.1M400.7,282.3v1.1M402.12,282.3v1.1M403.53,282.3v1.1M404.95,282.3v1.1M406.36,282.3v1.1M407.78,282.3v1.1M409.19,282.3v1.1M410.61,282.3v1.1M412.02,282.3v1.1M413.44,282.3v1.1M414.85,282.3v1.1M416.27,282.3v1.1M417.68,282.3v1.1M419.1,282.3v1.1M420.51,282.3v1.1M421.93,282.3v1.1M423.34,282.3v1.1M424.76,282.3v1.1M426.17,282.3v1.1M427.59,282.3v1.1M429.0,282.3v1.1M387.1,249.4h2.2M387.1,257.0h2.2M387.1,266.2h2.2M387.1,272.5h2.2M387.1,279.6h2.2M397.3,282.3v2.2M404.8,282.3v2.2M415.3,282.3v2.2M423.9,282.3v2.2" stroke="#222" stroke-width="0.75" fill="none"/>
<rect x="389.3" y="291.8" width="41.19999999999999" height="36.9" fill="none" stroke="#1e1e1e" stroke-width="1.1"/>
<text x="384.7" y="295.8" font-size="3.1" text-anchor="middle" fill="#4a4a4a" transform="rotate(-90 384.7 295.8)">10<tspan font-size="2.2" dy="-1.1">5</tspan></text>
<text x="384.7" y="303.4" font-size="3.1" text-anchor="middle" fill="#4a4a4a" transform="rotate(-90 384.7 303.4)">10<tspan font-size="2.2" dy="-1.1">4</tspan></text>
<text x="384.7" y="312.6" font-size="3.1" text-anchor="middle" fill="#4a4a4a" transform="rotate(-90 384.7 312.6)">10<tspan font-size="2.2" dy="-1.1">3</tspan></text>
<text x="384.7" y="318.9" font-size="3.1" text-anchor="middle" fill="#4a4a4a" transform="rotate(-90 384.7 318.9)">0</text>
<text x="384.7" y="326.0" font-size="3.1" text-anchor="middle" fill="#4a4a4a" transform="rotate(-90 384.7 326.0)">-10<tspan font-size="2.2" dy="-1.1">3</tspan></text>
<text x="397.3" y="334.5" font-size="3.1" text-anchor="middle" fill="#4a4a4a">0</text>
<text x="404.8" y="334.5" font-size="3.1" text-anchor="middle" fill="#4a4a4a">10<tspan font-size="2.2" dy="-1.1">3</tspan></text>
<text x="415.3" y="334.5" font-size="3.1" text-anchor="middle" fill="#4a4a4a">10<tspan font-size="2.2" dy="-1.1">4</tspan></text>
<text x="423.9" y="334.5" font-size="3.1" text-anchor="middle" fill="#4a4a4a">10<tspan font-size="2.2" dy="-1.1">5</tspan></text>
<text x="388.8" y="335.09999999999997" font-size="3.0" text-anchor="end" fill="#4a4a4a">-10<tspan font-size="2.2" dy="-1.1">3</tspan></text>
<path d="M388.2,293.3h1.1M388.2,294.56h1.1M388.2,295.81h1.1M388.2,297.07h1.1M388.2,298.32h1.1M388.2,299.58h1.1M388.2,300.83h1.1M388.2,302.09h1.1M388.2,303.34h1.1M388.2,304.6h1.1M388.2,305.86h1.1M388.2,307.11h1.1M388.2,308.37h1.1M388.2,309.62h1.1M388.2,310.88h1.1M388.2,312.13h1.1M388.2,313.39h1.1M388.2,314.64h1.1M388.2,315.9h1.1M388.2,317.16h1.1M388.2,318.41h1.1M388.2,319.67h1.1M388.2,320.92h1.1M388.2,322.18h1.1M388.2,323.43h1.1M388.2,324.69h1.1M388.2,325.94h1.1M388.2,327.2h1.1M390.8,328.7v1.1M392.21,328.7v1.1M393.63,328.7v1.1M395.04,328.7v1.1M396.46,328.7v1.1M397.87,328.7v1.1M399.29,328.7v1.1M400.7,328.7v1.1M402.12,328.7v1.1M403.53,328.7v1.1M404.95,328.7v1.1M406.36,328.7v1.1M407.78,328.7v1.1M409.19,328.7v1.1M410.61,328.7v1.1M412.02,328.7v1.1M413.44,328.7v1.1M414.85,328.7v1.1M416.27,328.7v1.1M417.68,328.7v1.1M419.1,328.7v1.1M420.51,328.7v1.1M421.93,328.7v1.1M423.34,328.7v1.1M424.76,328.7v1.1M426.17,328.7v1.1M427.59,328.7v1.1M429.0,328.7v1.1M387.1,295.8h2.2M387.1,303.4h2.2M387.1,312.6h2.2M387.1,318.9h2.2M387.1,326.0h2.2M397.3,328.7v2.2M404.8,328.7v2.2M415.3,328.7v2.2M423.9,328.7v2.2" stroke="#222" stroke-width="0.75" fill="none"/>
<rect x="463.8" y="152.2" width="39.80000000000001" height="36.9" fill="none" stroke="#1e1e1e" stroke-width="1.1"/>
<text x="459.2" y="156.2" font-size="3.1" text-anchor="middle" fill="#4a4a4a" transform="rotate(-90 459.2 156.2)">10<tspan font-size="2.2" dy="-1.1">5</tspan></text>
<text x="459.2" y="163.8" font-size="3.1" text-anchor="middle" fill="#4a4a4a" transform="rotate(-90 459.2 163.8)">10<tspan font-size="2.2" dy="-1.1">4</tspan></text>
<text x="459.2" y="173.0" font-size="3.1" text-anchor="middle" fill="#4a4a4a" transform="rotate(-90 459.2 173.0)">10<tspan font-size="2.2" dy="-1.1">3</tspan></text>
<text x="459.2" y="179.3" font-size="3.1" text-anchor="middle" fill="#4a4a4a" transform="rotate(-90 459.2 179.3)">0</text>
<text x="459.2" y="186.4" font-size="3.1" text-anchor="middle" fill="#4a4a4a" transform="rotate(-90 459.2 186.4)">-10<tspan font-size="2.2" dy="-1.1">3</tspan></text>
<text x="471.8" y="194.9" font-size="3.1" text-anchor="middle" fill="#4a4a4a">0</text>
<text x="479.3" y="194.9" font-size="3.1" text-anchor="middle" fill="#4a4a4a">10<tspan font-size="2.2" dy="-1.1">3</tspan></text>
<text x="489.8" y="194.9" font-size="3.1" text-anchor="middle" fill="#4a4a4a">10<tspan font-size="2.2" dy="-1.1">4</tspan></text>
<text x="498.4" y="194.9" font-size="3.1" text-anchor="middle" fill="#4a4a4a">10<tspan font-size="2.2" dy="-1.1">5</tspan></text>
<text x="463.3" y="195.5" font-size="3.0" text-anchor="end" fill="#4a4a4a">-10<tspan font-size="2.2" dy="-1.1">3</tspan></text>
<path d="M462.7,153.7h1.1M462.7,154.96h1.1M462.7,156.21h1.1M462.7,157.47h1.1M462.7,158.72h1.1M462.7,159.98h1.1M462.7,161.23h1.1M462.7,162.49h1.1M462.7,163.74h1.1M462.7,165.0h1.1M462.7,166.26h1.1M462.7,167.51h1.1M462.7,168.77h1.1M462.7,170.02h1.1M462.7,171.28h1.1M462.7,172.53h1.1M462.7,173.79h1.1M462.7,175.04h1.1M462.7,176.3h1.1M462.7,177.56h1.1M462.7,178.81h1.1M462.7,180.07h1.1M462.7,181.32h1.1M462.7,182.58h1.1M462.7,183.83h1.1M462.7,185.09h1.1M462.7,186.34h1.1M462.7,187.6h1.1M465.3,189.1v1.1M466.66,189.1v1.1M468.03,189.1v1.1M469.39,189.1v1.1M470.75,189.1v1.1M472.11,189.1v1.1M473.48,189.1v1.1M474.84,189.1v1.1M476.2,189.1v1.1M477.57,189.1v1.1M478.93,189.1v1.1M480.29,189.1v1.1M481.66,189.1v1.1M483.02,189.1v1.1M484.38,189.1v1.1M485.74,189.1v1.1M487.11,189.1v1.1M488.47,189.1v1.1M489.83,189.1v1.1M491.2,189.1v1.1M492.56,189.1v1.1M493.92,189.1v1.1M495.29,189.1v1.1M496.65,189.1v1.1M498.01,189.1v1.1M499.37,189.1v1.1M500.74,189.1v1.1M502.1,189.1v1.1M461.6,156.2h2.2M461.6,163.8h2.2M461.6,173.0h2.2M461.6,179.3h2.2M461.6,186.4h2.2M471.8,189.1v2.2M479.3,189.1v2.2M489.8,189.1v2.2M498.4,189.1v2.2" stroke="#222" stroke-width="0.75" fill="none"/>
<rect x="463.8" y="198.9" width="39.80000000000001" height="36.9" fill="none" stroke="#1e1e1e" stroke-width="1.1"/>
<text x="459.2" y="202.9" font-size="3.1" text-anchor="middle" fill="#4a4a4a" transform="rotate(-90 459.2 202.9)">10<tspan font-size="2.2" dy="-1.1">5</tspan></text>
<text x="459.2" y="210.5" font-size="3.1" text-anchor="middle" fill="#4a4a4a" transform="rotate(-90 459.2 210.5)">10<tspan font-size="2.2" dy="-1.1">4</tspan></text>
<text x="459.2" y="219.7" font-size="3.1" text-anchor="middle" fill="#4a4a4a" transform="rotate(-90 459.2 219.7)">10<tspan font-size="2.2" dy="-1.1">3</tspan></text>
<text x="459.2" y="226.0" font-size="3.1" text-anchor="middle" fill="#4a4a4a" transform="rotate(-90 459.2 226.0)">0</text>
<text x="459.2" y="233.1" font-size="3.1" text-anchor="middle" fill="#4a4a4a" transform="rotate(-90 459.2 233.1)">-10<tspan font-size="2.2" dy="-1.1">3</tspan></text>
<text x="471.8" y="241.60000000000002" font-size="3.1" text-anchor="middle" fill="#4a4a4a">0</text>
<text x="479.3" y="241.60000000000002" font-size="3.1" text-anchor="middle" fill="#4a4a4a">10<tspan font-size="2.2" dy="-1.1">3</tspan></text>
<text x="489.8" y="241.60000000000002" font-size="3.1" text-anchor="middle" fill="#4a4a4a">10<tspan font-size="2.2" dy="-1.1">4</tspan></text>
<text x="498.4" y="241.60000000000002" font-size="3.1" text-anchor="middle" fill="#4a4a4a">10<tspan font-size="2.2" dy="-1.1">5</tspan></text>
<text x="463.3" y="242.20000000000002" font-size="3.0" text-anchor="end" fill="#4a4a4a">-10<tspan font-size="2.2" dy="-1.1">3</tspan></text>
<path d="M462.7,200.4h1.1M462.7,201.66h1.1M462.7,202.91h1.1M462.7,204.17h1.1M462.7,205.42h1.1M462.7,206.68h1.1M462.7,207.93h1.1M462.7,209.19h1.1M462.7,210.44h1.1M462.7,211.7h1.1M462.7,212.96h1.1M462.7,214.21h1.1M462.7,215.47h1.1M462.7,216.72h1.1M462.7,217.98h1.1M462.7,219.23h1.1M462.7,220.49h1.1M462.7,221.74h1.1M462.7,223.0h1.1M462.7,224.26h1.1M462.7,225.51h1.1M462.7,226.77h1.1M462.7,228.02h1.1M462.7,229.28h1.1M462.7,230.53h1.1M462.7,231.79h1.1M462.7,233.04h1.1M462.7,234.3h1.1M465.3,235.8v1.1M466.66,235.8v1.1M468.03,235.8v1.1M469.39,235.8v1.1M470.75,235.8v1.1M472.11,235.8v1.1M473.48,235.8v1.1M474.84,235.8v1.1M476.2,235.8v1.1M477.57,235.8v1.1M478.93,235.8v1.1M480.29,235.8v1.1M481.66,235.8v1.1M483.02,235.8v1.1M484.38,235.8v1.1M485.74,235.8v1.1M487.11,235.8v1.1M488.47,235.8v1.1M489.83,235.8v1.1M491.2,235.8v1.1M492.56,235.8v1.1M493.92,235.8v1.1M495.29,235.8v1.1M496.65,235.8v1.1M498.01,235.8v1.1M499.37,235.8v1.1M500.74,235.8v1.1M502.1,235.8v1.1M461.6,202.9h2.2M461.6,210.5h2.2M461.6,219.7h2.2M461.6,226.0h2.2M461.6,233.1h2.2M471.8,235.8v2.2M479.3,235.8v2.2M489.8,235.8v2.2M498.4,235.8v2.2" stroke="#222" stroke-width="0.75" fill="none"/>
<rect x="463.8" y="245.4" width="39.80000000000001" height="36.9" fill="none" stroke="#1e1e1e" stroke-width="1.1"/>
<text x="459.2" y="249.4" font-size="3.1" text-anchor="middle" fill="#4a4a4a" transform="rotate(-90 459.2 249.4)">10<tspan font-size="2.2" dy="-1.1">5</tspan></text>
<text x="459.2" y="257.0" font-size="3.1" text-anchor="middle" fill="#4a4a4a" transform="rotate(-90 459.2 257.0)">10<tspan font-size="2.2" dy="-1.1">4</tspan></text>
<text x="459.2" y="266.2" font-size="3.1" text-anchor="middle" fill="#4a4a4a" transform="rotate(-90 459.2 266.2)">10<tspan font-size="2.2" dy="-1.1">3</tspan></text>
<text x="459.2" y="272.5" font-size="3.1" text-anchor="middle" fill="#4a4a4a" transform="rotate(-90 459.2 272.5)">0</text>
<text x="459.2" y="279.6" font-size="3.1" text-anchor="middle" fill="#4a4a4a" transform="rotate(-90 459.2 279.6)">-10<tspan font-size="2.2" dy="-1.1">3</tspan></text>
<text x="471.8" y="288.1" font-size="3.1" text-anchor="middle" fill="#4a4a4a">0</text>
<text x="479.3" y="288.1" font-size="3.1" text-anchor="middle" fill="#4a4a4a">10<tspan font-size="2.2" dy="-1.1">3</tspan></text>
<text x="489.8" y="288.1" font-size="3.1" text-anchor="middle" fill="#4a4a4a">10<tspan font-size="2.2" dy="-1.1">4</tspan></text>
<text x="498.4" y="288.1" font-size="3.1" text-anchor="middle" fill="#4a4a4a">10<tspan font-size="2.2" dy="-1.1">5</tspan></text>
<text x="463.3" y="288.7" font-size="3.0" text-anchor="end" fill="#4a4a4a">-10<tspan font-size="2.2" dy="-1.1">3</tspan></text>
<path d="M462.7,246.9h1.1M462.7,248.16h1.1M462.7,249.41h1.1M462.7,250.67h1.1M462.7,251.92h1.1M462.7,253.18h1.1M462.7,254.43h1.1M462.7,255.69h1.1M462.7,256.94h1.1M462.7,258.2h1.1M462.7,259.46h1.1M462.7,260.71h1.1M462.7,261.97h1.1M462.7,263.22h1.1M462.7,264.48h1.1M462.7,265.73h1.1M462.7,266.99h1.1M462.7,268.24h1.1M462.7,269.5h1.1M462.7,270.76h1.1M462.7,272.01h1.1M462.7,273.27h1.1M462.7,274.52h1.1M462.7,275.78h1.1M462.7,277.03h1.1M462.7,278.29h1.1M462.7,279.54h1.1M462.7,280.8h1.1M465.3,282.3v1.1M466.66,282.3v1.1M468.03,282.3v1.1M469.39,282.3v1.1M470.75,282.3v1.1M472.11,282.3v1.1M473.48,282.3v1.1M474.84,282.3v1.1M476.2,282.3v1.1M477.57,282.3v1.1M478.93,282.3v1.1M480.29,282.3v1.1M481.66,282.3v1.1M483.02,282.3v1.1M484.38,282.3v1.1M485.74,282.3v1.1M487.11,282.3v1.1M488.47,282.3v1.1M489.83,282.3v1.1M491.2,282.3v1.1M492.56,282.3v1.1M493.92,282.3v1.1M495.29,282.3v1.1M496.65,282.3v1.1M498.01,282.3v1.1M499.37,282.3v1.1M500.74,282.3v1.1M502.1,282.3v1.1M461.6,249.4h2.2M461.6,257.0h2.2M461.6,266.2h2.2M461.6,272.5h2.2M461.6,279.6h2.2M471.8,282.3v2.2M479.3,282.3v2.2M489.8,282.3v2.2M498.4,282.3v2.2" stroke="#222" stroke-width="0.75" fill="none"/>
<rect x="463.8" y="291.8" width="39.80000000000001" height="36.9" fill="none" stroke="#1e1e1e" stroke-width="1.1"/>
<text x="459.2" y="295.8" font-size="3.1" text-anchor="middle" fill="#4a4a4a" transform="rotate(-90 459.2 295.8)">10<tspan font-size="2.2" dy="-1.1">5</tspan></text>
<text x="459.2" y="303.4" font-size="3.1" text-anchor="middle" fill="#4a4a4a" transform="rotate(-90 459.2 303.4)">10<tspan font-size="2.2" dy="-1.1">4</tspan></text>
<text x="459.2" y="312.6" font-size="3.1" text-anchor="middle" fill="#4a4a4a" transform="rotate(-90 459.2 312.6)">10<tspan font-size="2.2" dy="-1.1">3</tspan></text>
<text x="459.2" y="318.9" font-size="3.1" text-anchor="middle" fill="#4a4a4a" transform="rotate(-90 459.2 318.9)">0</text>
<text x="459.2" y="326.0" font-size="3.1" text-anchor="middle" fill="#4a4a4a" transform="rotate(-90 459.2 326.0)">-10<tspan font-size="2.2" dy="-1.1">3</tspan></text>
<text x="471.8" y="334.5" font-size="3.1" text-anchor="middle" fill="#4a4a4a">0</text>
<text x="479.3" y="334.5" font-size="3.1" text-anchor="middle" fill="#4a4a4a">10<tspan font-size="2.2" dy="-1.1">3</tspan></text>
<text x="489.8" y="334.5" font-size="3.1" text-anchor="middle" fill="#4a4a4a">10<tspan font-size="2.2" dy="-1.1">4</tspan></text>
<text x="498.4" y="334.5" font-size="3.1" text-anchor="middle" fill="#4a4a4a">10<tspan font-size="2.2" dy="-1.1">5</tspan></text>
<text x="463.3" y="335.09999999999997" font-size="3.0" text-anchor="end" fill="#4a4a4a">-10<tspan font-size="2.2" dy="-1.1">3</tspan></text>
<path d="M462.7,293.3h1.1M462.7,294.56h1.1M462.7,295.81h1.1M462.7,297.07h1.1M462.7,298.32h1.1M462.7,299.58h1.1M462.7,300.83h1.1M462.7,302.09h1.1M462.7,303.34h1.1M462.7,304.6h1.1M462.7,305.86h1.1M462.7,307.11h1.1M462.7,308.37h1.1M462.7,309.62h1.1M462.7,310.88h1.1M462.7,312.13h1.1M462.7,313.39h1.1M462.7,314.64h1.1M462.7,315.9h1.1M462.7,317.16h1.1M462.7,318.41h1.1M462.7,319.67h1.1M462.7,320.92h1.1M462.7,322.18h1.1M462.7,323.43h1.1M462.7,324.69h1.1M462.7,325.94h1.1M462.7,327.2h1.1M465.3,328.7v1.1M466.66,328.7v1.1M468.03,328.7v1.1M469.39,328.7v1.1M470.75,328.7v1.1M472.11,328.7v1.1M473.48,328.7v1.1M474.84,328.7v1.1M476.2,328.7v1.1M477.57,328.7v1.1M478.93,328.7v1.1M480.29,328.7v1.1M481.66,328.7v1.1M483.02,328.7v1.1M484.38,328.7v1.1M485.74,328.7v1.1M487.11,328.7v1.1M488.47,328.7v1.1M489.83,328.7v1.1M491.2,328.7v1.1M492.56,328.7v1.1M493.92,328.7v1.1M495.29,328.7v1.1M496.65,328.7v1.1M498.01,328.7v1.1M499.37,328.7v1.1M500.74,328.7v1.1M502.1,328.7v1.1M461.6,295.8h2.2M461.6,303.4h2.2M461.6,312.6h2.2M461.6,318.9h2.2M461.6,326.0h2.2M471.8,328.7v2.2M479.3,328.7v2.2M489.8,328.7v2.2M498.4,328.7v2.2" stroke="#222" stroke-width="0.75" fill="none"/>
<g filter="url(#bl1)" opacity="1"><line x1="106.3" y1="180" x2="110.8" y2="168.9" stroke="#ecd6f0" stroke-width="4.5" stroke-linecap="round"/></g>
<g filter="url(#bl05)" opacity="0.85"><line x1="106.8" y1="179.5" x2="109.8" y2="171" stroke="#a890b4" stroke-width="1.4" stroke-linecap="round"/></g>
<g filter="url(#bl2)" opacity="1"><ellipse cx="108" cy="220" rx="5" ry="11" fill="#efe6e2" opacity="0.9" transform="rotate(25 108 220)"/></g>
<g filter="url(#bl1)" opacity="1"><ellipse cx="103.5" cy="222" rx="2.5" ry="5.5" fill="#a9c4f2" opacity="0.9" transform="rotate(35 103.5 222)"/></g>
<g filter="url(#bl1)" opacity="1"><ellipse cx="100.5" cy="228" rx="5.8" ry="3.9" fill="#5a8ceb" opacity="0.9" transform="rotate(-25 100.5 228)"/></g>
<g filter="url(#bl05)" opacity="1"><ellipse cx="100" cy="228.6" rx="4.0" ry="2.8" fill="#1d5be2" opacity="1" transform="rotate(-25 100 228.6)"/></g>
<g filter="url(#bl2)" opacity="1"><ellipse cx="111" cy="266" rx="3.6" ry="12" fill="#e6dcea" opacity="0.95" transform="rotate(12 111 266)"/></g>
<g filter="url(#bl1)" opacity="1"><polygon points="94,280.5 94,271 98,266 104.5,256.5 106.5,258 106.5,280.5" fill="#a9c4f2" opacity="0.8"/></g>
<g filter="url(#bl04)" opacity="1"><polygon points="94.8,279.8 94.8,272.5 97.8,268.8 101.2,262.8 104.2,257.6 105.8,258.5 105.9,279.8" fill="#1d5be2" opacity="1"/></g>
<g filter="url(#bl2)" opacity="1"><ellipse cx="109.5" cy="311" rx="3.6" ry="11" fill="#e4e0e4" opacity="0.95" transform="rotate(12 109.5 311)"/></g>
<g filter="url(#bl1)" opacity="1"><polygon points="97,326 103.5,314 106.5,315 106.5,326" fill="#a9c4f2" opacity="0.8"/></g>
<g filter="url(#bl04)" opacity="1"><polygon points="98.2,325.6 104.2,316 105.6,325.6" fill="#1d5be2" opacity="1"/></g>
<g filter="url(#bl05)" opacity="1"><polygon points="179.8,167 184.4,165 187.2,169.3 185.4,173.9 180.2,173.9" fill="#d070dc" opacity="0.9"/></g>
<g filter="url(#bl04)" opacity="1"><polygon points="180.6,167.5 184.4,165.9 186.4,169.5 184.8,173 180.8,173" fill="#c020d0" opacity="1"/></g>
<polygon points="168.9,159 171.2,155.8 175.2,154.2 179.5,154.6 180.9,158.6 177.6,162.6 172.5,164.1 169.4,164.1" stroke="#454545" stroke-width="0.75" fill="none" stroke-linejoin="round"/>
<polygon points="178.9,167.2 183.2,164.1 188.2,162.2 190.9,166.6 186.8,173 180.6,173.3" stroke="#454545" stroke-width="0.75" fill="none" stroke-linejoin="round"/>
<g filter="url(#bl1)" opacity="1"><ellipse cx="166" cy="207.6" rx="9" ry="1.5" fill="#e4d8c8" opacity="0.9" transform="rotate(0 166 207.6)"/><ellipse cx="186" cy="205.8" rx="4.5" ry="2.6" fill="#d0d0d0" opacity="0.9" transform="rotate(-10 186 205.8)"/></g>
<g filter="url(#bl1)" opacity="1"><ellipse cx="174.5" cy="207.4" rx="6.8" ry="3.2" fill="#5a8ceb" opacity="0.8" transform="rotate(-8 174.5 207.4)"/></g>
<g filter="url(#bl05)" opacity="1"><ellipse cx="174.5" cy="207.6" rx="5.6" ry="2.3" fill="#1d5be2" opacity="1" transform="rotate(-8 174.5 207.6)"/></g>
<g filter="url(#bl04)" opacity="1"><ellipse cx="175.2" cy="207.6" rx="3" ry="1.1" fill="#123fb0" opacity="0.9" transform="rotate(-8 175.2 207.6)"/></g>
<polygon points="168.9,205.7 171.2,202.5 175.2,200.9 179.5,201.3 180.9,205.3 177.6,209.3 172.5,210.8 169.4,210.8" stroke="#454545" stroke-width="0.75" fill="none" stroke-linejoin="round"/>
<polygon points="178.9,213.9 183.2,210.8 188.2,208.9 190.9,213.3 186.8,219.7 180.6,220.0" stroke="#454545" stroke-width="0.75" fill="none" stroke-linejoin="round"/>
<g filter="url(#bl1)" opacity="1"><ellipse cx="164" cy="251" rx="6" ry="1.6" fill="#eed6e0" opacity="0.9" transform="rotate(0 164 251)"/><ellipse cx="183" cy="249.5" rx="3.5" ry="2.5" fill="#dcdcd4" opacity="0.9" transform="rotate(0 183 249.5)"/></g>
<g filter="url(#bl05)" opacity="1"><polygon points="179.8,260 183.2,256.6 187.9,255.3 190.9,259.1 187.9,265.9 181.1,267.6" fill="#f0e2f4" opacity="0.75"/><ellipse cx="185" cy="258.5" rx="2.5" ry="2.5" fill="#d8a8e0" opacity="0.6" transform="rotate(0 185 258.5)"/></g>
<g filter="url(#bl05)" opacity="1"><polygon points="169.3,250 173,247.3 179.5,247.3 181,252 179.4,255.8 170.5,256.6" fill="#5a8ceb" opacity="0.9"/></g>
<g filter="url(#bl04)" opacity="1"><polygon points="170.1,250.5 173.5,248.9 179.2,249 179.6,253.5 177,255.3 170.6,255.3" fill="#1d5be2" opacity="1"/></g>
<polygon points="168.9,251.6 171.2,248.4 175.2,246.8 179.5,247.2 180.9,251.2 177.6,255.2 172.5,256.7 169.4,256.7" stroke="#454545" stroke-width="0.75" fill="none" stroke-linejoin="round"/>
<polygon points="179.8,260 183.2,256.6 187.9,255.3 190.9,259.1 187.9,265.9 181.1,267.6" stroke="#454545" stroke-width="0.75" fill="none" stroke-linejoin="round"/>
<g filter="url(#bl1)" opacity="1"><polygon points="168.9,298.6 171.2,295.4 175.2,293.8 179.5,294.2 180.9,298.2 177.6,302.2 172.5,303.7 169.4,303.7" fill="#c9dcf7" opacity="0.9"/><ellipse cx="184.5" cy="299.3" rx="4" ry="2" fill="#dcd2dc" opacity="0.9" transform="rotate(0 184.5 299.3)"/></g>
<g filter="url(#bl05)" opacity="1"><ellipse cx="175.8" cy="299.7" rx="4.2" ry="2.3" fill="#5a8ceb" opacity="0.9" transform="rotate(-8 175.8 299.7)"/></g>
<g filter="url(#bl04)" opacity="1"><ellipse cx="176" cy="299.7" rx="3" ry="1.5" fill="#1d5be2" opacity="1" transform="rotate(-8 176 299.7)"/></g>
<polygon points="168.9,298.6 171.2,295.4 175.2,293.8 179.5,294.2 180.9,298.2 177.6,302.2 172.5,303.7 169.4,303.7" stroke="#454545" stroke-width="0.75" fill="none" stroke-linejoin="round"/>
<polygon points="178.9,306.8 183.2,303.7 188.2,301.8 190.9,306.2 186.8,312.6 180.6,312.9" stroke="#454545" stroke-width="0.75" fill="none" stroke-linejoin="round"/>
<g filter="url(#bl1)" opacity="1"><polygon points="243.4,170.26 245.58,163.81 250.58,162.2 256.35,163.81 259.0,166.66 255.41,172.12 252.76,174.6 244.18,173.36" fill="#f6eef8" opacity="1"/><ellipse cx="253.8" cy="167" rx="3.2" ry="3.2" fill="#d890e0" opacity="0.85" transform="rotate(0 253.8 167)"/></g>
<polygon points="243.4,170.26 245.58,163.81 250.58,162.2 256.35,163.81 259.0,166.66 255.41,172.12 252.76,174.6 244.18,173.36" stroke="#454545" stroke-width="0.75" fill="none" stroke-linejoin="round"/>
<g filter="url(#bl2)" opacity="1"><ellipse cx="242" cy="227" rx="12" ry="4.5" fill="#a9c4f2" opacity="0.75" transform="rotate(0 242 227)"/></g>
<g filter="url(#bl05)" opacity="1"><polygon points="231,224.3 240,222.6 247.5,223.6 249,228.5 242,230.8 231,228.8" fill="#5a8ceb" opacity="0.9"/></g>
<g filter="url(#bl04)" opacity="1"><polygon points="233,225 240,223.8 246.8,224.5 247.6,228.6 241.5,229.8 233,228.2" fill="#1d5be2" opacity="1"/></g>
<polygon points="243.4,217.46 245.58,210.85 250.58,209.2 256.35,210.85 259.0,213.77 255.41,219.36 252.76,221.9 244.18,220.63" stroke="#454545" stroke-width="0.75" fill="none" stroke-linejoin="round"/>
<g filter="url(#bl05)" opacity="1"><polygon points="244.1,262.39 246.3,256.0 251.32,254.4 257.13,256.0 259.8,258.83 256.19,264.24 253.52,266.7 244.88,265.47" fill="#f3e2f0" opacity="1"/></g>
<g filter="url(#bl1)" opacity="1"><polygon points="230,267.5 252,265.2 255,269.5 251.5,279 246,280.5 230,274.5" fill="#a9c4f2" opacity="0.75"/></g>
<g filter="url(#bl04)" opacity="1"><polygon points="231.4,268.4 250.9,266.7 253.4,269.3 250,276.9 246.6,278.6 231.4,272.7" fill="#1d5be2" opacity="1"/></g>
<polygon points="244.1,262.39 246.3,256.0 251.32,254.4 257.13,256.0 259.8,258.83 256.19,264.24 253.52,266.7 244.88,265.47" stroke="#454545" stroke-width="0.75" fill="none" stroke-linejoin="round"/>
<g filter="url(#bl2)" opacity="1"><ellipse cx="242" cy="320" rx="12" ry="4.2" fill="#a9c4f2" opacity="0.75" transform="rotate(0 242 320)"/></g>
<g filter="url(#bl05)" opacity="1"><polygon points="232,317 241,315.6 248,317.4 249,322.8 241,324.4 232,321.8" fill="#5a8ceb" opacity="0.9"/></g>
<g filter="url(#bl04)" opacity="1"><polygon points="234,317.6 241,316.6 247,318 247.8,322.2 241,323.4 234,321.2" fill="#1d5be2" opacity="1"/></g>
<polygon points="243.4,310.19 245.65,303.64 250.81,302.0 256.76,303.64 259.5,306.54 255.8,312.08 253.06,314.6 244.21,313.34" stroke="#454545" stroke-width="0.75" fill="none" stroke-linejoin="round"/>
<g filter="url(#bl1)" opacity="1"><line x1="340.6" y1="179.3" x2="344.5" y2="169.6" stroke="#e8c4ee" stroke-width="3.6" stroke-linecap="round"/></g>
<g filter="url(#bl05)" opacity="0.9"><line x1="341" y1="178.5" x2="344" y2="170.8" stroke="#c458d0" stroke-width="1.3"/></g>
<g filter="url(#bl2)" opacity="1"><ellipse cx="342.5" cy="220" rx="6.5" ry="14" fill="#e2e2e2" opacity="0.95" transform="rotate(20 342.5 220)"/></g>
<g filter="url(#bl1)" opacity="1"><ellipse cx="338.8" cy="221" rx="3.6" ry="12" fill="#c4c4c4" opacity="0.9" transform="rotate(20 338.8 221)"/></g>
<g filter="url(#bl1)" opacity="1"><ellipse cx="331.2" cy="221" rx="2.8" ry="6.5" fill="#88a8ec" opacity="0.9" transform="rotate(8 331.2 221)"/></g>
<g filter="url(#bl05)" opacity="1"><ellipse cx="330.6" cy="229" rx="4.2" ry="3.6" fill="#5a8ceb" opacity="0.95" transform="rotate(-20 330.6 229)"/></g>
<g filter="url(#bl04)" opacity="1"><ellipse cx="330.3" cy="229.8" rx="3" ry="2.6" fill="#1d5be2" opacity="1" transform="rotate(-20 330.3 229.8)"/></g>
<g filter="url(#bl1)" opacity="1"><line x1="338" y1="279" x2="341.5" y2="257" stroke="#d8d8d8" stroke-width="7" stroke-linecap="round"/></g>
<g filter="url(#bl1)" opacity="1"><line x1="337.5" y1="279" x2="341" y2="259" stroke="#b8b8b8" stroke-width="3.5" stroke-linecap="round"/></g>
<g filter="url(#bl1)" opacity="1"><ellipse cx="345" cy="266.5" rx="2.8" ry="6" fill="#d690e0" opacity="0.9" transform="rotate(10 345 266.5)"/></g>
<g filter="url(#bl05)" opacity="1"><polygon points="330.2,279.6 330.8,273 333.5,266 335.8,266.5 335.8,279.6" fill="#6a92e6" opacity="1"/></g>
<g filter="url(#bl05)" opacity="1"><ellipse cx="332.5" cy="277.5" rx="2.8" ry="2" fill="#3a6ee0" opacity="0.9" transform="rotate(0 332.5 277.5)"/></g>
<g filter="url(#bl1)" opacity="1"><line x1="339" y1="326" x2="341" y2="303" stroke="#d8d8d8" stroke-width="7" stroke-linecap="round"/></g>
<g filter="url(#bl1)" opacity="1"><line x1="338.5" y1="326" x2="340.5" y2="305" stroke="#b8b8b8" stroke-width="3.5" stroke-linecap="round"/></g>
<g filter="url(#bl1)" opacity="1"><ellipse cx="345" cy="311" rx="3" ry="5.5" fill="#d690e0" opacity="0.9" transform="rotate(10 345 311)"/></g>
<g filter="url(#bl05)" opacity="1"><polygon points="329.8,326 330.3,319 333.5,312 335.8,312.4 335.8,326" fill="#6a92e6" opacity="1"/></g>
<g filter="url(#bl05)" opacity="1"><ellipse cx="332.3" cy="323.8" rx="2.8" ry="2" fill="#3a6ee0" opacity="0.9" transform="rotate(0 332.3 323.8)"/></g>
<g filter="url(#bl1)" opacity="1"><ellipse cx="414" cy="172" rx="4" ry="2" fill="#ececec" opacity="0.9" transform="rotate(0 414 172)"/></g>
<polygon points="399.4,160.2 402.8,156.4 407.1,155.3 411.7,156.8 412.2,159.7 408.3,163.6 404.5,165.3 399.9,165.7" stroke="#454545" stroke-width="0.75" fill="none" stroke-linejoin="round"/>
<polygon points="416.4,170.3 419.4,161 421.5,160.6 424.4,165.3 422.7,171.2 417.7,172.5" stroke="#454545" stroke-width="0.75" fill="none" stroke-linejoin="round"/>
<line x1="416.6" y1="169.8" x2="419.3" y2="161.5" stroke="#b070c0" stroke-width="0.9"/>
<g filter="url(#bl2)" opacity="1"><ellipse cx="407.5" cy="219.5" rx="5" ry="6.5" fill="#dcd8d0" opacity="0.9" transform="rotate(0 407.5 219.5)"/></g>
<g filter="url(#bl05)" opacity="1"><polygon points="399.4,207.2 402.8,203.4 407.1,202.3 411.7,203.8 412.2,206.7 408.3,210.6 404.5,212.3 399.9,212.7" fill="#c4d8f4" opacity="0.95"/><ellipse cx="405" cy="207.5" rx="4" ry="2.6" fill="#a8c4ee" opacity="0.9" transform="rotate(-30 405 207.5)"/></g>
<polygon points="399.4,207.2 402.8,203.4 407.1,202.3 411.7,203.8 412.2,206.7 408.3,210.6 404.5,212.3 399.9,212.7" stroke="#4a5a78" stroke-width="0.75" fill="none" stroke-linejoin="round"/>
<polygon points="416.4,217.3 419.4,208 421.5,207.6 424.4,212.3 422.7,218.2 417.7,219.5" stroke="#454545" stroke-width="0.75" fill="none" stroke-linejoin="round"/>
<g filter="url(#bl1)" opacity="1"><ellipse cx="414.5" cy="255.5" rx="5" ry="3.2" fill="#c8c8c8" opacity="0.9" transform="rotate(35 414.5 255.5)"/></g>
<g filter="url(#bl05)" opacity="1"><polygon points="399.4,252.4 402.8,248.6 407.1,247.5 411.7,249.0 412.2,251.9 408.3,255.8 404.5,257.5 399.9,257.9" fill="#cfe0f6" opacity="0.95"/><polygon points="416.4,262.3 419.4,253 421.5,252.6 424.4,257.3 422.7,263.2 417.7,264.5" fill="#ecd4f2" opacity="0.95"/></g>
<g filter="url(#bl05)" opacity="1"><ellipse cx="409.2" cy="253" rx="2.6" ry="2.3" fill="#5584e2" opacity="1" transform="rotate(0 409.2 253)"/><ellipse cx="420.2" cy="256.5" rx="2" ry="2.4" fill="#c060d0" opacity="0.9" transform="rotate(0 420.2 256.5)"/></g>
<polygon points="399.4,252.4 402.8,248.6 407.1,247.5 411.7,249.0 412.2,251.9 408.3,255.8 404.5,257.5 399.9,257.9" stroke="#4a5a78" stroke-width="0.75" fill="none" stroke-linejoin="round"/>
<polygon points="416.4,262.3 419.4,253 421.5,252.6 424.4,257.3 422.7,263.2 417.7,264.5" stroke="#6a4a78" stroke-width="0.75" fill="none" stroke-linejoin="round"/>
<g filter="url(#bl1)" opacity="1"><ellipse cx="414.5" cy="302.5" rx="5" ry="3.2" fill="#c8c8c8" opacity="0.9" transform="rotate(35 414.5 302.5)"/></g>
<g filter="url(#bl05)" opacity="1"><polygon points="399.4,299.4 402.8,295.6 407.1,294.5 411.7,296.0 412.2,298.9 408.3,302.8 404.5,304.5 399.9,304.9" fill="#cfe0f6" opacity="0.95"/><polygon points="416.4,310.8 419.4,301.5 421.5,301.1 424.4,305.8 422.7,311.7 417.7,313.0" fill="#efdaf4" opacity="0.95"/></g>
<g filter="url(#bl05)" opacity="1"><ellipse cx="409.2" cy="300" rx="2.6" ry="2.3" fill="#5584e2" opacity="1" transform="rotate(0 409.2 300)"/><ellipse cx="420.5" cy="303.5" rx="1.8" ry="2" fill="#c880d8" opacity="0.8" transform="rotate(0 420.5 303.5)"/></g>
<polygon points="399.4,299.4 402.8,295.6 407.1,294.5 411.7,296.0 412.2,298.9 408.3,302.8 404.5,304.5 399.9,304.9" stroke="#4a5a78" stroke-width="0.75" fill="none" stroke-linejoin="round"/>
<polygon points="416.4,310.8 419.4,301.5 421.5,301.1 424.4,305.8 422.7,311.7 417.7,313.0" stroke="#6a4a78" stroke-width="0.75" fill="none" stroke-linejoin="round"/>
<g filter="url(#bl05)" opacity="1"><polygon points="480.5,168.5 482.5,163.5 487,162.3 492.5,164.2 493.5,167 489.5,171 484,172.5" fill="#dc98e6" opacity="0.95"/></g>
<g filter="url(#bl05)" opacity="1"><ellipse cx="488.3" cy="166" rx="4.6" ry="3.2" fill="#c020d0" opacity="0.95" transform="rotate(-15 488.3 166)"/></g>
<polygon points="479.4,166.5 481.9,163.1 486.6,162.3 491.7,164 493.8,166.5 490,170.7 487.4,173.7 482.3,173.3 479.8,169.9" stroke="#454545" stroke-width="0.75" fill="none" stroke-linejoin="round"/>
<g filter="url(#bl1)" opacity="1"><polygon points="466,228 478,221 483,221 483,229 472,229" fill="#c4d4f2" opacity="0.9"/></g>
<g filter="url(#bl05)" opacity="1"><polygon points="478.5,228.5 480,221.5 483.2,220.5 483,229" fill="#5c88e2" opacity="0.9"/></g>
<polygon points="479.4,213.1 481.9,209.7 486.6,208.9 491.7,210.6 493.8,213.1 490,217.3 487.4,220.3 482.3,219.9 479.8,216.5" stroke="#454545" stroke-width="0.75" fill="none" stroke-linejoin="round"/>
<g filter="url(#bl1)" opacity="1"><polygon points="467,272.5 477,266.5 483,266 481,273.5 470,274" fill="#c8d8f4" opacity="0.9"/></g>
<g filter="url(#bl05)" opacity="1"><polygon points="479.4,258.5 481.9,255.1 486.6,254.3 491.7,256 493.8,258.5 490,262.7 487.4,265.7 482.3,265.3 479.8,261.9" fill="#f6eaf8" opacity="0.9"/><ellipse cx="482.3" cy="263.5" rx="2.6" ry="3.6" fill="#c858d8" opacity="0.85" transform="rotate(0 482.3 263.5)"/></g>
<polygon points="479.4,258.5 481.9,255.1 486.6,254.3 491.7,256 493.8,258.5 490,262.7 487.4,265.7 482.3,265.3 479.8,261.9" stroke="#454545" stroke-width="0.75" fill="none" stroke-linejoin="round"/>
<g filter="url(#bl1)" opacity="1"><polygon points="467,319.5 476,315.5 481.5,315.5 480,321 470,321.5" fill="#cddcf4" opacity="0.9"/></g>
<g filter="url(#bl05)" opacity="1"><polygon points="479.4,305.5 481.9,302.1 486.6,301.3 491.7,303 493.8,305.5 490,309.7 487.4,312.7 482.3,312.3 479.8,308.9" fill="#f2e2f4" opacity="0.9"/><ellipse cx="483" cy="309" rx="2.5" ry="3" fill="#e0b4e8" opacity="0.8" transform="rotate(0 483 309)"/></g>
<polygon points="479.4,305.5 481.9,302.1 486.6,301.3 491.7,303 493.8,305.5 490,309.7 487.4,312.7 482.3,312.3 479.8,308.9" stroke="#454545" stroke-width="0.75" fill="none" stroke-linejoin="round"/>
<line x1="136.8" y1="371.8" x2="136.8" y2="431.5" stroke="#141414" stroke-width="1.1"/>
<line x1="134.3" y1="375.0" x2="136.8" y2="375.0" stroke="#141414" stroke-width="1"/>
<text x="131.20000000000002" y="377.9" font-size="8.3" text-anchor="end" fill="#1a1a1a" stroke="#1a1a1a" stroke-width="0.27">30</text>
<line x1="134.3" y1="393.8" x2="136.8" y2="393.8" stroke="#141414" stroke-width="1"/>
<text x="131.20000000000002" y="396.7" font-size="8.3" text-anchor="end" fill="#1a1a1a" stroke="#1a1a1a" stroke-width="0.27">20</text>
<line x1="134.3" y1="412.4" x2="136.8" y2="412.4" stroke="#141414" stroke-width="1"/>
<text x="131.20000000000002" y="415.29999999999995" font-size="8.3" text-anchor="end" fill="#1a1a1a" stroke="#1a1a1a" stroke-width="0.27">10</text>
<line x1="134.3" y1="431.0" x2="136.8" y2="431.0" stroke="#141414" stroke-width="1"/>
<text x="131.20000000000002" y="433.9" font-size="8.3" text-anchor="end" fill="#1a1a1a" stroke="#1a1a1a" stroke-width="0.27">0</text>
<line x1="136.3" y1="431.0" x2="214.4" y2="431.0" stroke="#141414" stroke-width="1.1"/>
<rect x="140.0" y="393.8" width="19.19999999999999" height="37.19999999999999" fill="#b4b4b4"/>
<line x1="149.6" y1="380.4" x2="149.6" y2="393.8" stroke="#4a4a4a" stroke-width="1.1"/>
<line x1="144.9" y1="380.4" x2="154.29999999999998" y2="380.4" stroke="#4a4a4a" stroke-width="1.1"/>
<line x1="149.6" y1="431.0" x2="149.6" y2="434.0" stroke="#141414" stroke-width="1"/>
<rect x="166.2" y="413.5" width="18.400000000000006" height="17.5" fill="#000"/>
<line x1="175.39999999999998" y1="403.5" x2="175.39999999999998" y2="413.5" stroke="#000" stroke-width="1.1"/>
<line x1="170.7" y1="403.5" x2="180.09999999999997" y2="403.5" stroke="#000" stroke-width="1.1"/>
<line x1="175.39999999999998" y1="431.0" x2="175.39999999999998" y2="434.0" stroke="#141414" stroke-width="1"/>
<rect x="191.3" y="419.2" width="19.299999999999983" height="11.800000000000011" fill="#000"/>
<line x1="200.95" y1="416.3" x2="200.95" y2="419.2" stroke="#000" stroke-width="1.1"/>
<line x1="196.25" y1="416.3" x2="205.64999999999998" y2="416.3" stroke="#000" stroke-width="1.1"/>
<line x1="200.95" y1="431.0" x2="200.95" y2="434.0" stroke="#141414" stroke-width="1"/>
<text x="152.60000000000002" y="442.2" font-size="8.3" text-anchor="end" fill="#1a1a1a" transform="rotate(-45 152.60000000000002 442.2)" stroke="#1a1a1a" stroke-width="0.27">Vehicle</text>
<text x="179.4" y="442.2" font-size="8.3" text-anchor="end" fill="#1a1a1a" transform="rotate(-45 179.4 442.2)" stroke="#1a1a1a" stroke-width="0.27">30 mg/kg</text>
<text x="204.8" y="442.2" font-size="8.3" text-anchor="end" fill="#1a1a1a" transform="rotate(-45 204.8 442.2)" stroke="#1a1a1a" stroke-width="0.27">60 mg/kg</text>
<text x="167.4" y="390.8" font-size="7.9" text-anchor="start" fill="#1a1a1a" stroke="#1a1a1a" stroke-width="0.27">P=0.052</text>
<text x="196.0" y="408.5" font-size="7.9" text-anchor="start" fill="#1a1a1a" stroke="#1a1a1a" stroke-width="0.27">P=0.052</text>
<text x="116.6" y="401.6" font-size="8.8" text-anchor="middle" fill="#1a1a1a" transform="rotate(-90 116.6 401.6)" stroke="#1a1a1a" stroke-width="0.27">% CAL-1 infiltration</text>
<line x1="357.0" y1="371.8" x2="357.0" y2="431.3" stroke="#141414" stroke-width="1.1"/>
<line x1="354.5" y1="374.7" x2="357.0" y2="374.7" stroke="#141414" stroke-width="1"/>
<text x="351.4" y="377.59999999999997" font-size="8.3" text-anchor="end" fill="#1a1a1a" stroke="#1a1a1a" stroke-width="0.27">80</text>
<line x1="354.5" y1="388.8" x2="357.0" y2="388.8" stroke="#141414" stroke-width="1"/>
<text x="351.4" y="391.7" font-size="8.3" text-anchor="end" fill="#1a1a1a" stroke="#1a1a1a" stroke-width="0.27">60</text>
<line x1="354.5" y1="402.7" x2="357.0" y2="402.7" stroke="#141414" stroke-width="1"/>
<text x="351.4" y="405.59999999999997" font-size="8.3" text-anchor="end" fill="#1a1a1a" stroke="#1a1a1a" stroke-width="0.27">40</text>
<line x1="354.5" y1="416.8" x2="357.0" y2="416.8" stroke="#141414" stroke-width="1"/>
<text x="351.4" y="419.7" font-size="8.3" text-anchor="end" fill="#1a1a1a" stroke="#1a1a1a" stroke-width="0.27">20</text>
<line x1="354.5" y1="430.8" x2="357.0" y2="430.8" stroke="#141414" stroke-width="1"/>
<text x="351.4" y="433.7" font-size="8.3" text-anchor="end" fill="#1a1a1a" stroke="#1a1a1a" stroke-width="0.27">0</text>
<line x1="356.5" y1="430.8" x2="434.8" y2="430.8" stroke="#141414" stroke-width="1.1"/>
<rect x="360.5" y="389.3" width="19.30000000000001" height="41.5" fill="#b4b4b4"/>
<line x1="370.15" y1="384.7" x2="370.15" y2="389.3" stroke="#4a4a4a" stroke-width="1.1"/>
<line x1="365.45" y1="384.7" x2="374.84999999999997" y2="384.7" stroke="#4a4a4a" stroke-width="1.1"/>
<line x1="370.15" y1="430.8" x2="370.15" y2="433.8" stroke="#141414" stroke-width="1"/>
<rect x="386.1" y="402.4" width="19.5" height="28.400000000000034" fill="#000"/>
<line x1="395.85" y1="397.6" x2="395.85" y2="402.4" stroke="#000" stroke-width="1.1"/>
<line x1="391.15000000000003" y1="397.6" x2="400.55" y2="397.6" stroke="#000" stroke-width="1.1"/>
<line x1="395.85" y1="430.8" x2="395.85" y2="433.8" stroke="#141414" stroke-width="1"/>
<rect x="411.7" y="407.7" width="19.30000000000001" height="23.100000000000023" fill="#000"/>
<line x1="421.35" y1="401.3" x2="421.35" y2="407.7" stroke="#000" stroke-width="1.1"/>
<line x1="416.65000000000003" y1="401.3" x2="426.05" y2="401.3" stroke="#000" stroke-width="1.1"/>
<line x1="421.35" y1="430.8" x2="421.35" y2="433.8" stroke="#141414" stroke-width="1"/>
<text x="373.40000000000003" y="442.2" font-size="8.3" text-anchor="end" fill="#1a1a1a" transform="rotate(-45 373.40000000000003 442.2)" stroke="#1a1a1a" stroke-width="0.27">Vehicle</text>
<text x="399.0" y="442.2" font-size="8.3" text-anchor="end" fill="#1a1a1a" transform="rotate(-45 399.0 442.2)" stroke="#1a1a1a" stroke-width="0.27">30 mg/kg</text>
<text x="424.8" y="442.2" font-size="8.3" text-anchor="end" fill="#1a1a1a" transform="rotate(-45 424.8 442.2)" stroke="#1a1a1a" stroke-width="0.27">60 mg/kg</text>
<text x="386.6" y="390.4" font-size="7.9" text-anchor="start" fill="#1a1a1a" stroke="#1a1a1a" stroke-width="0.27">P=0.07</text>
<text x="417.4" y="397.1" font-size="7.9" text-anchor="start" fill="#1a1a1a" stroke="#1a1a1a" stroke-width="0.27">P=0.06</text>
<text x="335.6" y="401.5" font-size="8.8" text-anchor="middle" fill="#1a1a1a" transform="rotate(-90 335.6 401.5)" stroke="#1a1a1a" stroke-width="0.27">% CAL-1 infiltration</text>
<text x="176.4" y="495.8" font-size="9.7" text-anchor="middle" fill="#1a1a1a" stroke="#1a1a1a" stroke-width="0.27">NSG survival rate</text>
<line x1="121.2" y1="500.8" x2="121.2" y2="572.5" stroke="#141414" stroke-width="1.1"/>
<line x1="118.60000000000001" y1="572.0" x2="121.2" y2="572.0" stroke="#141414" stroke-width="1"/>
<text x="116.60000000000001" y="574.9" font-size="8.2" text-anchor="end" fill="#1a1a1a" stroke="#1a1a1a" stroke-width="0.27">0</text>
<line x1="118.60000000000001" y1="559.15" x2="121.2" y2="559.15" stroke="#141414" stroke-width="1"/>
<text x="116.60000000000001" y="562.05" font-size="8.2" text-anchor="end" fill="#1a1a1a" stroke="#1a1a1a" stroke-width="0.27">20</text>
<line x1="118.60000000000001" y1="546.3" x2="121.2" y2="546.3" stroke="#141414" stroke-width="1"/>
<text x="116.60000000000001" y="549.1999999999999" font-size="8.2" text-anchor="end" fill="#1a1a1a" stroke="#1a1a1a" stroke-width="0.27">40</text>
<line x1="118.60000000000001" y1="533.45" x2="121.2" y2="533.45" stroke="#141414" stroke-width="1"/>
<text x="116.60000000000001" y="536.35" font-size="8.2" text-anchor="end" fill="#1a1a1a" stroke="#1a1a1a" stroke-width="0.27">60</text>
<line x1="118.60000000000001" y1="520.6" x2="121.2" y2="520.6" stroke="#141414" stroke-width="1"/>
<text x="116.60000000000001" y="523.5" font-size="8.2" text-anchor="end" fill="#1a1a1a" stroke="#1a1a1a" stroke-width="0.27">80</text>
<line x1="118.60000000000001" y1="507.75" x2="121.2" y2="507.75" stroke="#141414" stroke-width="1"/>
<text x="116.60000000000001" y="510.65" font-size="8.2" text-anchor="end" fill="#1a1a1a" stroke="#1a1a1a" stroke-width="0.27">100</text>
<text x="95.6" y="536.6" font-size="8.9" text-anchor="middle" fill="#1a1a1a" transform="rotate(-90 95.6 536.6)" stroke="#1a1a1a" stroke-width="0.27">% survival</text>
<line x1="120.7" y1="572.0" x2="133.5" y2="572.0" stroke="#141414" stroke-width="1.1"/>
<line x1="133.5" y1="569.2" x2="133.5" y2="575.2" stroke="#141414" stroke-width="1"/>
<line x1="137.7" y1="569.2" x2="137.7" y2="575.2" stroke="#141414" stroke-width="1"/>
<line x1="137.7" y1="572.0" x2="242.6" y2="572.0" stroke="#141414" stroke-width="1.1"/>
<line x1="121.2" y1="572.0" x2="121.2" y2="574.6" stroke="#141414" stroke-width="1"/>
<line x1="151.0" y1="572.0" x2="151.0" y2="574.6" stroke="#141414" stroke-width="1"/>
<line x1="163.7" y1="572.0" x2="163.7" y2="574.6" stroke="#141414" stroke-width="1"/>
<line x1="176.4" y1="572.0" x2="176.4" y2="574.6" stroke="#141414" stroke-width="1"/>
<line x1="189.1" y1="572.0" x2="189.1" y2="574.6" stroke="#141414" stroke-width="1"/>
<line x1="201.8" y1="572.0" x2="201.8" y2="574.6" stroke="#141414" stroke-width="1"/>
<line x1="214.5" y1="572.0" x2="214.5" y2="574.6" stroke="#141414" stroke-width="1"/>
<line x1="227.2" y1="572.0" x2="227.2" y2="574.6" stroke="#141414" stroke-width="1"/>
<line x1="239.89999999999998" y1="572.0" x2="239.89999999999998" y2="574.6" stroke="#141414" stroke-width="1"/>
<text x="121.2" y="584.8" font-size="7.4" text-anchor="middle" fill="#1a1a1a" stroke="#1a1a1a" stroke-width="0.27">0</text>
<text x="138.8" y="584.8" font-size="7.4" text-anchor="middle" fill="#1a1a1a" stroke="#1a1a1a" stroke-width="0.27">10</text>
<text x="151.0" y="584.8" font-size="7.4" text-anchor="middle" fill="#1a1a1a" stroke="#1a1a1a" stroke-width="0.27">12</text>
<text x="163.7" y="584.8" font-size="7.4" text-anchor="middle" fill="#1a1a1a" stroke="#1a1a1a" stroke-width="0.27">14</text>
<text x="176.4" y="584.8" font-size="7.4" text-anchor="middle" fill="#1a1a1a" stroke="#1a1a1a" stroke-width="0.27">16</text>
<text x="189.1" y="584.8" font-size="7.4" text-anchor="middle" fill="#1a1a1a" stroke="#1a1a1a" stroke-width="0.27">18</text>
<text x="201.8" y="584.8" font-size="7.4" text-anchor="middle" fill="#1a1a1a" stroke="#1a1a1a" stroke-width="0.27">20</text>
<text x="214.5" y="584.8" font-size="7.4" text-anchor="middle" fill="#1a1a1a" stroke="#1a1a1a" stroke-width="0.27">22</text>
<text x="227.2" y="584.8" font-size="7.4" text-anchor="middle" fill="#1a1a1a" stroke="#1a1a1a" stroke-width="0.27">24</text>
<text x="239.89999999999998" y="584.8" font-size="7.4" text-anchor="middle" fill="#1a1a1a" stroke="#1a1a1a" stroke-width="0.27">26</text>
<text transform="translate(182.2 598.3) scale(0.83 1)" font-size="9.8" text-anchor="middle" fill="#1a1a1a" stroke="#1a1a1a" stroke-width="0.27">Days</text>
<line x1="117.7" y1="507.75" x2="134.6" y2="507.75" stroke="#8c8c8c" stroke-width="1.3"/>
<line x1="137.7" y1="507.75" x2="233.2" y2="507.75" stroke="#8c8c8c" stroke-width="1.3"/>
<circle cx="233.2" cy="507.75" r="2.2" fill="#8c8c8c"/>
<line x1="182.5" y1="551.6" x2="227.3" y2="551.6" stroke="#111" stroke-width="1" stroke-dasharray="1.8,1.1"/>
<line x1="201.8" y1="568.2" x2="227.3" y2="568.2" stroke="#111" stroke-width="1" stroke-dasharray="1.8,1.1"/>
<circle cx="203.1" cy="551.6" r="0.9" fill="#111"/>
<circle cx="207" cy="551.6" r="0.9" fill="#111"/>
<circle cx="215" cy="568.2" r="0.9" fill="#111"/>
<polyline points="195.4,507.75 195.4,520.6 214.5,520.6 214.5,546.3 226.8,546.3 226.8,572.0" stroke="#a8123a" stroke-width="1.5" fill="none" stroke-linejoin="round"/>
<polyline points="195.4,507.75 195.4,533.45 201.8,533.45 201.8,546.3 227.4,546.3 227.4,559.15 233.6,559.15 233.6,572.0" stroke="#d8a0a0" stroke-width="1.3" fill="none" stroke-linejoin="round"/>
<polyline points="156.9,507.75 156.9,520.6 169.7,520.6 169.7,533.45 176.4,533.45 176.4,546.3 182.7,546.3 182.7,559.15 201.6,559.15 201.6,572.0" stroke="#000" stroke-width="1.6" fill="none" stroke-linejoin="round"/>
<rect x="154.4" y="518.1" width="5" height="5" fill="#000"/>
<rect x="167.2" y="530.95" width="5" height="5" fill="#000"/>
<rect x="173.9" y="543.8" width="5" height="5" fill="#000"/>
<rect x="180.2" y="556.65" width="5" height="5" fill="#000"/>
<rect x="199.1" y="569.5" width="5" height="5" fill="#000"/>
<polygon points="195.4,531.0500000000001 193.0,535.37 197.8,535.37" stroke="#d8a0a0" stroke-width="0.8" fill="#d8a0a0" stroke-linejoin="round"/>
<polygon points="201.8,543.9 199.4,548.2199999999999 204.20000000000002,548.2199999999999" stroke="#d8a0a0" stroke-width="0.8" fill="#d8a0a0" stroke-linejoin="round"/>
<polygon points="227.4,556.75 225.0,561.0699999999999 229.8,561.0699999999999" stroke="#d8a0a0" stroke-width="0.8" fill="#d8a0a0" stroke-linejoin="round"/>
<polygon points="233.6,569.6 231.2,573.92 236.0,573.92" stroke="#d8a0a0" stroke-width="0.8" fill="#d8a0a0" stroke-linejoin="round"/>
<polygon points="195.4,523.0 193.0,518.6800000000001 197.8,518.6800000000001" stroke="#a8123a" stroke-width="0.8" fill="#a8123a" stroke-linejoin="round"/>
<polygon points="214.5,548.6999999999999 212.1,544.38 216.9,544.38" stroke="#a8123a" stroke-width="0.8" fill="#a8123a" stroke-linejoin="round"/>
<polygon points="226.8,573.43625 224.4,569.11625 229.20000000000002,569.11625" stroke="#a8123a" stroke-width="0.8" fill="#a8123a" stroke-linejoin="round"/>
<line x1="253.3" y1="509.5" x2="266.5" y2="509.5" stroke="#8c8c8c" stroke-width="1.8"/>
<circle cx="260" cy="509.5" r="2.1" fill="#8c8c8c"/>
<text x="270.4" y="512.2" font-size="7.4" text-anchor="start" fill="#1a1a1a" stroke="#1a1a1a" stroke-width="0.27">Irradiated</text>
<line x1="253.3" y1="526.4" x2="266.5" y2="526.4" stroke="#000" stroke-width="1.8"/>
<rect x="257.6" y="524.0" width="4.8" height="4.8" fill="#000"/>
<text x="270.4" y="529.1" font-size="7.4" text-anchor="start" fill="#1a1a1a" stroke="#1a1a1a" stroke-width="0.27">Vehicle</text>
<line x1="253.3" y1="542.4" x2="266.5" y2="542.4" stroke="#d8a0a0" stroke-width="1.8"/>
<polygon points="260,540.1999999999999 257.8,544.16 262.2,544.16" stroke="#d8a0a0" stroke-width="0.8" fill="#d8a0a0" stroke-linejoin="round"/>
<text x="270.4" y="545.1" font-size="7.4" text-anchor="start" fill="#1a1a1a" stroke="#1a1a1a" stroke-width="0.27">30 mg/kg</text>
<line x1="253.3" y1="558.0" x2="266.5" y2="558.0" stroke="#a8123a" stroke-width="1.8"/>
<polygon points="260,560.2 257.8,556.24 262.2,556.24" stroke="#a8123a" stroke-width="0.8" fill="#a8123a" stroke-linejoin="round"/>
<text x="270.4" y="560.7" font-size="7.4" text-anchor="start" fill="#1a1a1a" stroke="#1a1a1a" stroke-width="0.27">60 mg/kg</text>
<line x1="361.9" y1="513.7" x2="361.9" y2="572.7" stroke="#141414" stroke-width="1.1"/>
<line x1="359.4" y1="572.2" x2="361.9" y2="572.2" stroke="#141414" stroke-width="1"/>
<text x="356.7" y="575.0" font-size="7.9" text-anchor="end" fill="#1a1a1a" stroke="#1a1a1a" stroke-width="0.27">0</text>
<line x1="359.4" y1="562.815" x2="361.9" y2="562.815" stroke="#141414" stroke-width="1"/>
<text x="356.7" y="565.615" font-size="7.9" text-anchor="end" fill="#1a1a1a" stroke="#1a1a1a" stroke-width="0.27">5</text>
<line x1="359.4" y1="553.4300000000001" x2="361.9" y2="553.4300000000001" stroke="#141414" stroke-width="1"/>
<text x="356.7" y="556.23" font-size="7.9" text-anchor="end" fill="#1a1a1a" stroke="#1a1a1a" stroke-width="0.27">10</text>
<line x1="359.4" y1="544.0450000000001" x2="361.9" y2="544.0450000000001" stroke="#141414" stroke-width="1"/>
<text x="356.7" y="546.845" font-size="7.9" text-anchor="end" fill="#1a1a1a" stroke="#1a1a1a" stroke-width="0.27">15</text>
<line x1="359.4" y1="534.6600000000001" x2="361.9" y2="534.6600000000001" stroke="#141414" stroke-width="1"/>
<text x="356.7" y="537.46" font-size="7.9" text-anchor="end" fill="#1a1a1a" stroke="#1a1a1a" stroke-width="0.27">20</text>
<line x1="359.4" y1="525.2750000000001" x2="361.9" y2="525.2750000000001" stroke="#141414" stroke-width="1"/>
<text x="356.7" y="528.075" font-size="7.9" text-anchor="end" fill="#1a1a1a" stroke="#1a1a1a" stroke-width="0.27">25</text>
<line x1="359.4" y1="515.8900000000001" x2="361.9" y2="515.8900000000001" stroke="#141414" stroke-width="1"/>
<text x="356.7" y="518.69" font-size="7.9" text-anchor="end" fill="#1a1a1a" stroke="#1a1a1a" stroke-width="0.27">30</text>
<line x1="361.4" y1="572.2" x2="439.4" y2="572.2" stroke="#141414" stroke-width="1.1"/>
<line x1="374.9" y1="572.2" x2="374.9" y2="575.2" stroke="#141414" stroke-width="1"/>
<line x1="400.7" y1="572.2" x2="400.7" y2="575.2" stroke="#141414" stroke-width="1"/>
<line x1="426.1" y1="572.2" x2="426.1" y2="575.2" stroke="#141414" stroke-width="1"/>
<text x="341.2" y="542.6" font-size="8.3" text-anchor="middle" fill="#1a1a1a" transform="rotate(-90 341.2 542.6)" stroke="#1a1a1a" stroke-width="0.27">Days</text>
<text x="376.4" y="583.0" font-size="8.2" text-anchor="end" fill="#1a1a1a" transform="rotate(-45 376.4 583.0)" stroke="#1a1a1a" stroke-width="0.27">Untreated</text>
<text x="402.4" y="583.0" font-size="8.2" text-anchor="end" fill="#1a1a1a" transform="rotate(-45 402.4 583.0)" stroke="#1a1a1a" stroke-width="0.27">30 mg/kg</text>
<text x="427.8" y="583.0" font-size="8.2" text-anchor="end" fill="#1a1a1a" transform="rotate(-45 427.8 583.0)" stroke="#1a1a1a" stroke-width="0.27">60 mg/kg</text>
<polyline points="375.4,527.1 375.4,506.9 424.5,506.9 424.5,521.8" stroke="#1a1a1a" stroke-width="1" fill="none" stroke-linejoin="round"/>
<polyline points="375.4,515.7 399.6,515.7 399.6,518.6" stroke="#1a1a1a" stroke-width="1" fill="none" stroke-linejoin="round"/>
<circle cx="399.9" cy="503.8" r="1.3" fill="#111"/><circle cx="386.9" cy="512.4" r="1.3" fill="#111"/>
<line x1="367.0" y1="541.9" x2="383.6" y2="541.9" stroke="#000" stroke-width="1.3"/>
<line x1="370.90000000000003" y1="540.0" x2="379.7" y2="540.0" stroke="#000" stroke-width="1"/>
<line x1="370.90000000000003" y1="543.8" x2="379.7" y2="543.8" stroke="#000" stroke-width="1"/>
<line x1="375.3" y1="540.0" x2="375.3" y2="543.8" stroke="#000" stroke-width="1"/>
<circle cx="375.4" cy="535.4" r="1.35" fill="#000"/>
<circle cx="373" cy="542.5" r="1.35" fill="#000"/>
<circle cx="376.5" cy="543.5" r="1.35" fill="#000"/>
<circle cx="373.5" cy="548.3" r="1.35" fill="#000"/>
<circle cx="377.9" cy="541.5" r="1.35" fill="#000"/>
<line x1="392.5" y1="532.4" x2="409.1" y2="532.4" stroke="#000" stroke-width="1.3"/>
<line x1="396.40000000000003" y1="529.8" x2="405.2" y2="529.8" stroke="#000" stroke-width="1"/>
<line x1="396.40000000000003" y1="535.0" x2="405.2" y2="535.0" stroke="#000" stroke-width="1"/>
<line x1="400.8" y1="529.8" x2="400.8" y2="535.0" stroke="#000" stroke-width="1"/>
<circle cx="398" cy="525.6" r="1.35" fill="#000"/>
<circle cx="402.5" cy="527.9" r="1.35" fill="#000"/>
<circle cx="396.7" cy="534.8" r="1.35" fill="#000"/>
<circle cx="400.8" cy="537.4" r="1.35" fill="#000"/>
<circle cx="404.2" cy="537.4" r="1.35" fill="#000"/>
<line x1="418.09999999999997" y1="531.3" x2="434.7" y2="531.3" stroke="#000" stroke-width="1.3"/>
<line x1="422.0" y1="529.5999999999999" x2="430.79999999999995" y2="529.5999999999999" stroke="#000" stroke-width="1"/>
<line x1="422.0" y1="533.0" x2="430.79999999999995" y2="533.0" stroke="#000" stroke-width="1"/>
<line x1="426.4" y1="529.5999999999999" x2="426.4" y2="533.0" stroke="#000" stroke-width="1"/>
<circle cx="419.8" cy="527.9" r="1.35" fill="#000"/>
<circle cx="432.1" cy="527.9" r="1.35" fill="#000"/>
<circle cx="425.6" cy="537.4" r="1.35" fill="#000"/>
<circle cx="424" cy="530.3" r="1.35" fill="#000"/>
<circle cx="428.5" cy="531.6" r="1.35" fill="#000"/>
<rect x="0" y="0" width="520" height="1.2" fill="#000"/>
<rect x="0" y="0" width="1.2" height="617" fill="#000"/>
<rect x="518.4" y="0" width="1.6" height="617" fill="#000"/>
<rect x="0" y="615.4" width="520" height="1.6" fill="#000"/>
</svg></body></html>
